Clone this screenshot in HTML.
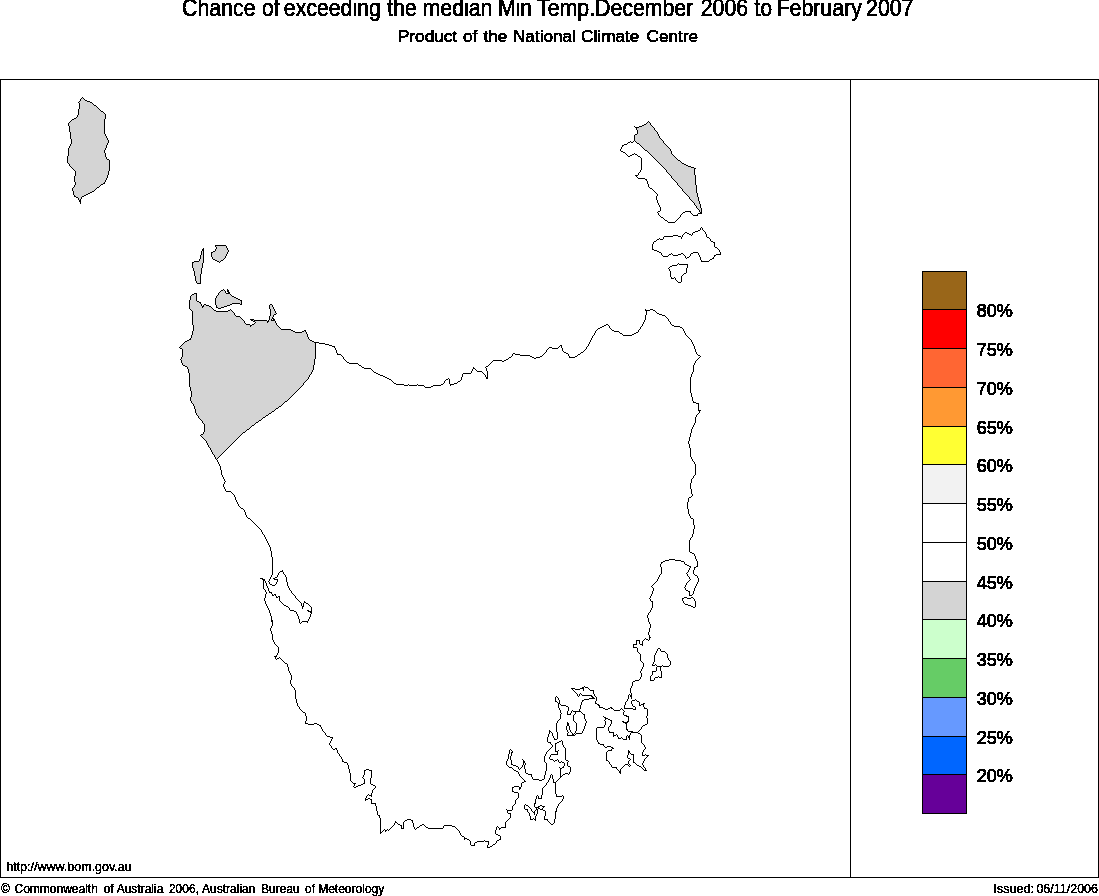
<!DOCTYPE html>
<html><head><meta charset="utf-8"><title>Chance of exceeding the median Min Temp</title>
<style>
html,body{margin:0;padding:0;background:#fff;}
body{width:1099px;height:896px;overflow:hidden;position:relative;font-family:"Liberation Sans",sans-serif;color:#000;}
svg{position:absolute;left:0;top:0;display:block;}
svg text{font-family:"Liberation Sans",sans-serif;fill:#000;stroke:#000;stroke-width:0.6px;}
.small text{stroke-width:0.4px;}
.map path{stroke:none;}
.map path.ol{fill:#000;}
.leg rect{stroke:#000;stroke-width:1;}
.legt text{font-size:18px;stroke-width:0.9px;}
</style></head><body>
<svg width="1099" height="896" viewBox="0 0 1099 896" shape-rendering="crispEdges">
<rect x="0.5" y="79.5" width="1098" height="798" fill="#fff" stroke="#000" stroke-width="1"/>
<line x1="850.5" y1="79.5" x2="850.5" y2="877.5" stroke="#000" stroke-width="1"/>
<g class="map">
<path d="M82.5 97.5 L85.5 100.5 L91.5 102.5 L98.5 108.5 L105.5 114.5 L104.5 123.5 L104.5 133.5 L108.5 141.5 L104.5 151.5 L106.5 158.5 L109.5 160.5 L109.5 169.5 L107.5 176.5 L104.5 183.5 L101.5 184.5 L94.5 190.5 L88.5 193.5 L82.5 196.5 L80.5 199.5 L80.5 203.5 L78.5 198.5 L74.5 196.5 L72.5 188.5 L75.5 184.5 L74.5 179.5 L75.5 171.5 L71.5 167.5 L67.5 162.5 L68.5 148.5 L71.5 143.5 L70.5 134.5 L68.5 123.5 L71.5 120.5 L76.5 117.5 L78.5 113.5 L79.5 103.5 L78.5 102.5 Z" fill="#d4d4d4"/>
<path d="M203.5 248.5 L203.5 260.5 L201.5 270.5 L200.5 277.5 L200.5 283.5 L197.5 283.5 L195.5 279.5 L194.5 272.5 L192.5 266.5 L192.5 262.5 L195.5 261.5 L198.5 261.5 L200.5 257.5 L201.5 251.5 Z" fill="#d4d4d4"/>
<path d="M215.5 245.5 L225.5 245.5 L227.5 248.5 L228.5 251.5 L226.5 254.5 L225.5 257.5 L219.5 262.5 L216.5 260.5 L213.5 259.5 L211.5 256.5 L211.5 252.5 L214.5 251.5 L216.5 247.5 Z" fill="#d4d4d4"/>
<path d="M223.5 289.5 L226.5 293.5 L228.5 293.5 L227.5 289.5 L229.5 293.5 L231.5 295.5 L237.5 298.5 L241.5 300.5 L241.5 302.5 L241.5 304.5 L237.5 303.5 L232.5 303.5 L228.5 305.5 L222.5 307.5 L218.5 308.5 L216.5 307.5 L215.5 302.5 L215.5 298.5 L219.5 292.5 Z" fill="#d4d4d4"/>
<path d="M216.5 459.5 L209.5 447.5 L205.5 440.5 L200.5 435.5 L202.5 434.5 L204.5 431.5 L204.5 424.5 L200.5 419.5 L196.5 414.5 L194.5 406.5 L190.5 400.5 L191.5 392.5 L189.5 384.5 L189.5 374.5 L187.5 367.5 L182.5 364.5 L181.5 360.5 L180.5 359.5 L182.5 356.5 L182.5 349.5 L179.5 347.5 L182.5 344.5 L185.5 341.5 L190.5 339.5 L191.5 336.5 L193.5 328.5 L192.5 320.5 L192.5 311.5 L189.5 308.5 L189.5 303.5 L190.5 296.5 L192.5 294.5 L196.5 293.5 L196.5 300.5 L200.5 302.5 L202.5 307.5 L204.5 304.5 L210.5 306.5 L213.5 309.5 L216.5 311.5 L223.5 311.5 L227.5 311.5 L230.5 309.5 L232.5 311.5 L236.5 316.5 L239.5 316.5 L242.5 319.5 L246.5 324.5 L249.5 324.5 L250.5 326.5 L255.5 322.5 L250.5 319.5 L258.5 320.5 L266.5 320.5 L267.5 322.5 L269.5 319.5 L270.5 311.5 L269.5 305.5 L271.5 304.5 L276.5 313.5 L273.5 315.5 L271.5 320.5 L273.5 320.5 L273.5 318.5 L277.5 325.5 L281.5 329.5 L290.5 329.5 L295.5 332.5 L300.5 332.5 L305.5 330.5 L308.5 338.5 L310.5 340.5 L315.5 342.5 L315.5 354.5 L314.5 364.5 L314.5 360.5 L313.5 369.5 L307.5 379.5 L300.5 387.5 L291.5 396.5 L281.5 405.5 L268.5 414.5 L255.5 423.5 L241.5 434.5 L230.5 445.5 L222.5 453.5 L216.5 459.5 Z" fill="#d4d4d4"/>
<path d="M648.5 121.5 L651.5 125.5 L656.5 131.5 L660.5 138.5 L666.5 145.5 L670.5 149.5 L671.5 153.5 L675.5 157.5 L681.5 162.5 L689.5 166.5 L695.5 168.5 L694.5 170.5 L695.5 179.5 L696.5 191.5 L699.5 202.5 L701.5 209.5 L701.5 213.5 L698.5 213.5 L697.5 215.5 L693.5 215.5 L691.5 213.5 L690.5 211.5 L685.5 211.5 L682.5 213.5 L679.5 217.5 L676.5 220.5 L674.5 222.5 L668.5 222.5 L664.5 219.5 L660.5 216.5 L657.5 212.5 L660.5 210.5 L660.5 207.5 L657.5 202.5 L656.5 197.5 L657.5 194.5 L653.5 190.5 L649.5 187.5 L648.5 185.5 L646.5 179.5 L642.5 178.5 L638.5 178.5 L635.5 175.5 L637.5 175.5 L639.5 172.5 L641.5 168.5 L641.5 163.5 L641.5 158.5 L637.5 155.5 L634.5 153.5 L628.5 156.5 L625.5 153.5 L620.5 150.5 L622.5 145.5 L626.5 144.5 L630.5 141.5 L632.5 142.5 L634.5 140.5 L634.5 135.5 L637.5 133.5 L637.5 130.5 L635.5 127.5 L634.5 126.5 L636.5 127.5 L641.5 126.5 L645.5 124.5 Z" fill="#ffffff"/>
<path d="M648.5 121.5 L651.5 125.5 L656.5 131.5 L660.5 138.5 L666.5 145.5 L670.5 149.5 L671.5 153.5 L675.5 157.5 L681.5 162.5 L689.5 166.5 L695.5 168.5 L694.5 170.5 L695.5 179.5 L696.5 191.5 L699.5 202.5 L701.5 209.5 L701.5 213.5 L700.5 212.5 L693.5 202.5 L685.5 193.5 L674.5 180.5 L663.5 167.5 L650.5 154.5 L634.5 140.5 L634.5 135.5 L637.5 133.5 L637.5 130.5 L635.5 127.5 L634.5 126.5 L636.5 127.5 L641.5 126.5 L645.5 124.5 Z" fill="#d4d4d4"/>
<path class="ol" d="M82 97h1v1h-1zM81 98h1v1h-1zM83 98h1v1h-1zM80 99h1v1h-1zM84 99h1v1h-1zM80 100h1v1h-1zM85 100h2v1h-2zM79 101h1v1h-1zM87 101h3v1h-3zM78 102h1v1h-1zM90 102h2v1h-2zM79 103h1v1h-1zM92 103h1v1h-1zM79 104h1v1h-1zM93 104h1v1h-1zM79 105h1v1h-1zM94 105h2v1h-2zM79 106h1v1h-1zM96 106h1v1h-1zM79 107h1v1h-1zM97 107h1v1h-1zM79 108h1v1h-1zM98 108h1v1h-1zM78 109h1v1h-1zM99 109h1v1h-1zM78 110h1v1h-1zM100 110h1v1h-1zM78 111h1v1h-1zM101 111h2v1h-2zM78 112h1v1h-1zM103 112h1v1h-1zM78 113h1v1h-1zM104 113h1v1h-1zM78 114h1v1h-1zM105 114h1v1h-1zM77 115h1v1h-1zM105 115h1v1h-1zM77 116h1v1h-1zM105 116h1v1h-1zM76 117h1v1h-1zM105 117h1v1h-1zM74 118h2v1h-2zM105 118h1v1h-1zM72 119h2v1h-2zM104 119h1v1h-1zM71 120h1v1h-1zM104 120h1v1h-1zM70 121h1v1h-1zM104 121h1v1h-1zM648 121h1v1h-1zM69 122h1v1h-1zM104 122h1v1h-1zM647 122h1v1h-1zM649 122h1v1h-1zM68 123h1v1h-1zM104 123h1v1h-1zM646 123h1v1h-1zM650 123h1v1h-1zM68 124h1v1h-1zM104 124h1v1h-1zM644 124h2v1h-2zM650 124h1v1h-1zM68 125h1v1h-1zM104 125h1v1h-1zM642 125h2v1h-2zM651 125h1v1h-1zM69 126h1v1h-1zM104 126h1v1h-1zM634 126h1v1h-1zM639 126h3v1h-3zM652 126h1v1h-1zM69 127h1v1h-1zM104 127h1v1h-1zM635 127h4v1h-4zM653 127h1v1h-1zM69 128h1v1h-1zM104 128h1v1h-1zM636 128h1v1h-1zM654 128h1v1h-1zM69 129h1v1h-1zM104 129h1v1h-1zM636 129h1v1h-1zM654 129h1v1h-1zM69 130h1v1h-1zM104 130h1v1h-1zM637 130h1v1h-1zM655 130h1v1h-1zM69 131h1v1h-1zM104 131h1v1h-1zM637 131h1v1h-1zM656 131h1v1h-1zM70 132h1v1h-1zM104 132h1v1h-1zM637 132h1v1h-1zM657 132h1v1h-1zM70 133h1v1h-1zM104 133h1v1h-1zM637 133h1v1h-1zM657 133h1v1h-1zM70 134h1v1h-1zM105 134h1v1h-1zM635 134h2v1h-2zM658 134h1v1h-1zM70 135h1v1h-1zM105 135h1v1h-1zM634 135h1v1h-1zM658 135h1v1h-1zM70 136h1v1h-1zM106 136h1v1h-1zM634 136h1v1h-1zM659 136h1v1h-1zM70 137h1v1h-1zM106 137h1v1h-1zM634 137h1v1h-1zM659 137h1v1h-1zM70 138h1v1h-1zM107 138h1v1h-1zM634 138h1v1h-1zM660 138h1v1h-1zM71 139h1v1h-1zM107 139h1v1h-1zM634 139h1v1h-1zM661 139h1v1h-1zM71 140h1v1h-1zM108 140h1v1h-1zM634 140h1v1h-1zM662 140h1v1h-1zM71 141h1v1h-1zM108 141h1v1h-1zM630 141h1v1h-1zM633 141h1v1h-1zM635 141h1v1h-1zM663 141h1v1h-1zM71 142h1v1h-1zM108 142h1v1h-1zM628 142h2v1h-2zM631 142h2v1h-2zM636 142h1v1h-1zM663 142h1v1h-1zM71 143h1v1h-1zM107 143h1v1h-1zM627 143h1v1h-1zM637 143h2v1h-2zM664 143h1v1h-1zM70 144h1v1h-1zM107 144h1v1h-1zM624 144h3v1h-3zM639 144h1v1h-1zM665 144h1v1h-1zM70 145h1v1h-1zM106 145h1v1h-1zM622 145h2v1h-2zM640 145h1v1h-1zM666 145h1v1h-1zM69 146h1v1h-1zM106 146h1v1h-1zM622 146h1v1h-1zM641 146h1v1h-1zM667 146h1v1h-1zM69 147h1v1h-1zM106 147h1v1h-1zM621 147h1v1h-1zM642 147h1v1h-1zM668 147h1v1h-1zM68 148h1v1h-1zM105 148h1v1h-1zM621 148h1v1h-1zM643 148h1v1h-1zM669 148h1v1h-1zM68 149h1v1h-1zM105 149h1v1h-1zM620 149h1v1h-1zM644 149h1v1h-1zM670 149h1v1h-1zM68 150h1v1h-1zM104 150h1v1h-1zM620 150h1v1h-1zM645 150h2v1h-2zM670 150h1v1h-1zM68 151h1v1h-1zM104 151h1v1h-1zM621 151h2v1h-2zM647 151h1v1h-1zM671 151h1v1h-1zM68 152h1v1h-1zM104 152h1v1h-1zM623 152h2v1h-2zM648 152h1v1h-1zM671 152h1v1h-1zM68 153h1v1h-1zM105 153h1v1h-1zM625 153h1v1h-1zM634 153h1v1h-1zM649 153h1v1h-1zM671 153h1v1h-1zM68 154h1v1h-1zM105 154h1v1h-1zM626 154h1v1h-1zM632 154h2v1h-2zM635 154h2v1h-2zM650 154h1v1h-1zM672 154h1v1h-1zM68 155h1v1h-1zM105 155h1v1h-1zM627 155h1v1h-1zM630 155h2v1h-2zM637 155h1v1h-1zM651 155h1v1h-1zM673 155h1v1h-1zM67 156h1v1h-1zM105 156h1v1h-1zM628 156h2v1h-2zM638 156h2v1h-2zM652 156h1v1h-1zM674 156h1v1h-1zM67 157h1v1h-1zM106 157h1v1h-1zM640 157h1v1h-1zM653 157h1v1h-1zM675 157h1v1h-1zM67 158h1v1h-1zM106 158h1v1h-1zM641 158h1v1h-1zM654 158h1v1h-1zM676 158h1v1h-1zM67 159h1v1h-1zM107 159h2v1h-2zM641 159h1v1h-1zM655 159h1v1h-1zM677 159h1v1h-1zM67 160h1v1h-1zM109 160h1v1h-1zM641 160h1v1h-1zM656 160h1v1h-1zM678 160h2v1h-2zM67 161h1v1h-1zM109 161h1v1h-1zM641 161h1v1h-1zM657 161h1v1h-1zM680 161h1v1h-1zM67 162h1v1h-1zM109 162h1v1h-1zM641 162h1v1h-1zM658 162h1v1h-1zM681 162h1v1h-1zM68 163h1v1h-1zM109 163h1v1h-1zM641 163h1v1h-1zM659 163h1v1h-1zM682 163h2v1h-2zM69 164h1v1h-1zM109 164h1v1h-1zM641 164h1v1h-1zM660 164h1v1h-1zM684 164h2v1h-2zM69 165h1v1h-1zM109 165h1v1h-1zM641 165h1v1h-1zM661 165h1v1h-1zM686 165h2v1h-2zM70 166h1v1h-1zM109 166h1v1h-1zM641 166h1v1h-1zM662 166h1v1h-1zM688 166h3v1h-3zM71 167h1v1h-1zM109 167h1v1h-1zM641 167h1v1h-1zM663 167h1v1h-1zM691 167h3v1h-3zM72 168h1v1h-1zM109 168h1v1h-1zM641 168h1v1h-1zM664 168h1v1h-1zM694 168h2v1h-2zM73 169h1v1h-1zM109 169h1v1h-1zM641 169h1v1h-1zM665 169h1v1h-1zM694 169h1v1h-1zM74 170h1v1h-1zM109 170h1v1h-1zM640 170h1v1h-1zM666 170h1v1h-1zM694 170h1v1h-1zM75 171h1v1h-1zM108 171h1v1h-1zM640 171h1v1h-1zM666 171h1v1h-1zM694 171h1v1h-1zM75 172h1v1h-1zM108 172h1v1h-1zM639 172h1v1h-1zM667 172h1v1h-1zM694 172h1v1h-1zM75 173h1v1h-1zM108 173h1v1h-1zM638 173h1v1h-1zM668 173h1v1h-1zM694 173h1v1h-1zM75 174h1v1h-1zM108 174h1v1h-1zM638 174h1v1h-1zM669 174h1v1h-1zM694 174h1v1h-1zM75 175h1v1h-1zM107 175h1v1h-1zM635 175h3v1h-3zM670 175h1v1h-1zM695 175h1v1h-1zM74 176h1v1h-1zM107 176h1v1h-1zM636 176h1v1h-1zM671 176h1v1h-1zM695 176h1v1h-1zM74 177h1v1h-1zM107 177h1v1h-1zM637 177h1v1h-1zM671 177h1v1h-1zM695 177h1v1h-1zM74 178h1v1h-1zM106 178h1v1h-1zM638 178h7v1h-7zM672 178h1v1h-1zM695 178h1v1h-1zM74 179h1v1h-1zM106 179h1v1h-1zM645 179h2v1h-2zM673 179h1v1h-1zM695 179h1v1h-1zM74 180h1v1h-1zM105 180h1v1h-1zM646 180h1v1h-1zM674 180h1v1h-1zM695 180h1v1h-1zM74 181h1v1h-1zM105 181h1v1h-1zM647 181h1v1h-1zM675 181h1v1h-1zM695 181h1v1h-1zM75 182h1v1h-1zM104 182h1v1h-1zM647 182h1v1h-1zM676 182h1v1h-1zM695 182h1v1h-1zM75 183h1v1h-1zM103 183h2v1h-2zM647 183h1v1h-1zM677 183h1v1h-1zM695 183h1v1h-1zM75 184h1v1h-1zM101 184h2v1h-2zM648 184h1v1h-1zM677 184h1v1h-1zM695 184h1v1h-1zM74 185h1v1h-1zM100 185h1v1h-1zM648 185h1v1h-1zM678 185h1v1h-1zM696 185h1v1h-1zM74 186h1v1h-1zM99 186h1v1h-1zM648 186h1v1h-1zM679 186h1v1h-1zM696 186h1v1h-1zM73 187h1v1h-1zM97 187h2v1h-2zM649 187h1v1h-1zM680 187h1v1h-1zM696 187h1v1h-1zM72 188h1v1h-1zM96 188h1v1h-1zM650 188h2v1h-2zM681 188h1v1h-1zM696 188h1v1h-1zM72 189h1v1h-1zM95 189h1v1h-1zM652 189h1v1h-1zM682 189h1v1h-1zM696 189h1v1h-1zM72 190h1v1h-1zM94 190h1v1h-1zM653 190h1v1h-1zM682 190h1v1h-1zM696 190h1v1h-1zM73 191h1v1h-1zM92 191h2v1h-2zM654 191h1v1h-1zM683 191h1v1h-1zM696 191h1v1h-1zM73 192h1v1h-1zM90 192h2v1h-2zM655 192h1v1h-1zM684 192h1v1h-1zM696 192h1v1h-1zM73 193h1v1h-1zM88 193h2v1h-2zM656 193h1v1h-1zM685 193h1v1h-1zM697 193h1v1h-1zM73 194h1v1h-1zM86 194h2v1h-2zM657 194h1v1h-1zM686 194h1v1h-1zM697 194h1v1h-1zM74 195h1v1h-1zM84 195h2v1h-2zM657 195h1v1h-1zM687 195h1v1h-1zM697 195h1v1h-1zM74 196h2v1h-2zM82 196h2v1h-2zM656 196h1v1h-1zM688 196h1v1h-1zM697 196h1v1h-1zM76 197h2v1h-2zM81 197h1v1h-1zM656 197h1v1h-1zM689 197h1v1h-1zM698 197h1v1h-1zM78 198h1v1h-1zM81 198h1v1h-1zM656 198h1v1h-1zM689 198h1v1h-1zM698 198h1v1h-1zM78 199h1v1h-1zM80 199h1v1h-1zM656 199h1v1h-1zM690 199h1v1h-1zM698 199h1v1h-1zM79 200h2v1h-2zM657 200h1v1h-1zM691 200h1v1h-1zM698 200h1v1h-1zM79 201h2v1h-2zM657 201h1v1h-1zM692 201h1v1h-1zM699 201h1v1h-1zM80 202h1v1h-1zM657 202h1v1h-1zM693 202h1v1h-1zM699 202h1v1h-1zM80 203h1v1h-1zM658 203h1v1h-1zM694 203h1v1h-1zM699 203h1v1h-1zM658 204h1v1h-1zM694 204h1v1h-1zM700 204h1v1h-1zM659 205h1v1h-1zM695 205h1v1h-1zM700 205h1v1h-1zM659 206h1v1h-1zM696 206h1v1h-1zM700 206h1v1h-1zM660 207h1v1h-1zM696 207h1v1h-1zM700 207h1v1h-1zM660 208h1v1h-1zM697 208h1v1h-1zM701 208h1v1h-1zM660 209h1v1h-1zM698 209h1v1h-1zM701 209h1v1h-1zM660 210h1v1h-1zM699 210h1v1h-1zM701 210h1v1h-1zM658 211h2v1h-2zM685 211h6v1h-6zM699 211h1v1h-1zM701 211h1v1h-1zM657 212h1v1h-1zM683 212h2v1h-2zM690 212h1v1h-1zM700 212h2v1h-2zM658 213h1v1h-1zM682 213h1v1h-1zM691 213h1v1h-1zM698 213h4v1h-4zM658 214h1v1h-1zM681 214h1v1h-1zM692 214h1v1h-1zM697 214h1v1h-1zM659 215h1v1h-1zM680 215h1v1h-1zM693 215h5v1h-5zM660 216h1v1h-1zM680 216h1v1h-1zM661 217h2v1h-2zM679 217h1v1h-1zM663 218h1v1h-1zM678 218h1v1h-1zM664 219h1v1h-1zM677 219h1v1h-1zM665 220h2v1h-2zM676 220h1v1h-1zM667 221h1v1h-1zM675 221h1v1h-1zM668 222h7v1h-7zM701 227h1v1h-1zM700 228h1v1h-1zM702 228h1v1h-1zM700 229h1v1h-1zM702 229h1v1h-1zM698 230h2v1h-2zM703 230h1v1h-1zM695 231h3v1h-3zM704 231h1v1h-1zM685 232h2v1h-2zM693 232h2v1h-2zM705 232h1v1h-1zM684 233h1v1h-1zM687 233h2v1h-2zM692 233h1v1h-1zM705 233h1v1h-1zM683 234h1v1h-1zM689 234h2v1h-2zM692 234h1v1h-1zM706 234h1v1h-1zM673 235h5v1h-5zM682 235h1v1h-1zM691 235h1v1h-1zM706 235h1v1h-1zM664 236h9v1h-9zM678 236h3v1h-3zM682 236h1v1h-1zM706 236h1v1h-1zM663 237h1v1h-1zM681 237h1v1h-1zM707 237h2v1h-2zM659 238h1v1h-1zM663 238h1v1h-1zM681 238h1v1h-1zM709 238h1v1h-1zM657 239h2v1h-2zM660 239h3v1h-3zM710 239h1v1h-1zM656 240h1v1h-1zM710 240h1v1h-1zM654 241h2v1h-2zM711 241h2v1h-2zM653 242h1v1h-1zM713 242h2v1h-2zM653 243h1v1h-1zM714 243h1v1h-1zM652 244h1v1h-1zM714 244h1v1h-1zM215 245h11v1h-11zM652 245h1v1h-1zM714 245h1v1h-1zM215 246h1v1h-1zM226 246h1v1h-1zM652 246h1v1h-1zM714 246h1v1h-1zM216 247h1v1h-1zM226 247h1v1h-1zM652 247h1v1h-1zM715 247h2v1h-2zM203 248h1v1h-1zM216 248h1v1h-1zM227 248h1v1h-1zM652 248h1v1h-1zM717 248h1v1h-1zM202 249h2v1h-2zM215 249h1v1h-1zM227 249h1v1h-1zM652 249h2v1h-2zM718 249h1v1h-1zM202 250h2v1h-2zM215 250h1v1h-1zM228 250h1v1h-1zM654 250h3v1h-3zM719 250h1v1h-1zM201 251h1v1h-1zM203 251h1v1h-1zM213 251h2v1h-2zM228 251h1v1h-1zM657 251h2v1h-2zM719 251h1v1h-1zM201 252h1v1h-1zM203 252h1v1h-1zM211 252h2v1h-2zM227 252h1v1h-1zM659 252h2v1h-2zM693 252h5v1h-5zM720 252h1v1h-1zM201 253h1v1h-1zM203 253h1v1h-1zM211 253h1v1h-1zM227 253h1v1h-1zM661 253h1v1h-1zM671 253h1v1h-1zM681 253h2v1h-2zM691 253h2v1h-2zM698 253h1v1h-1zM720 253h1v1h-1zM201 254h1v1h-1zM203 254h1v1h-1zM211 254h1v1h-1zM226 254h1v1h-1zM661 254h1v1h-1zM669 254h2v1h-2zM672 254h1v1h-1zM678 254h3v1h-3zM683 254h1v1h-1zM690 254h1v1h-1zM698 254h1v1h-1zM716 254h5v1h-5zM200 255h1v1h-1zM203 255h1v1h-1zM211 255h1v1h-1zM226 255h1v1h-1zM662 255h1v1h-1zM668 255h1v1h-1zM673 255h5v1h-5zM684 255h1v1h-1zM690 255h1v1h-1zM699 255h1v1h-1zM714 255h2v1h-2zM200 256h1v1h-1zM203 256h1v1h-1zM211 256h1v1h-1zM225 256h1v1h-1zM663 256h5v1h-5zM685 256h1v1h-1zM689 256h1v1h-1zM699 256h1v1h-1zM714 256h1v1h-1zM200 257h1v1h-1zM203 257h1v1h-1zM212 257h1v1h-1zM225 257h1v1h-1zM685 257h1v1h-1zM687 257h2v1h-2zM700 257h1v1h-1zM713 257h1v1h-1zM200 258h1v1h-1zM203 258h1v1h-1zM212 258h1v1h-1zM224 258h1v1h-1zM686 258h1v1h-1zM700 258h1v1h-1zM712 258h2v1h-2zM199 259h1v1h-1zM203 259h1v1h-1zM213 259h2v1h-2zM223 259h1v1h-1zM700 259h1v1h-1zM710 259h2v1h-2zM199 260h1v1h-1zM203 260h1v1h-1zM215 260h2v1h-2zM221 260h2v1h-2zM701 260h1v1h-1zM709 260h1v1h-1zM194 261h5v1h-5zM203 261h1v1h-1zM217 261h2v1h-2zM220 261h1v1h-1zM701 261h8v1h-8zM192 262h2v1h-2zM203 262h1v1h-1zM219 262h1v1h-1zM192 263h1v1h-1zM202 263h1v1h-1zM678 263h1v1h-1zM192 264h1v1h-1zM202 264h1v1h-1zM677 264h1v1h-1zM679 264h9v1h-9zM192 265h1v1h-1zM202 265h1v1h-1zM672 265h5v1h-5zM687 265h1v1h-1zM192 266h1v1h-1zM202 266h1v1h-1zM670 266h2v1h-2zM687 266h1v1h-1zM192 267h1v1h-1zM202 267h1v1h-1zM669 267h1v1h-1zM687 267h1v1h-1zM193 268h1v1h-1zM201 268h1v1h-1zM668 268h1v1h-1zM686 268h1v1h-1zM193 269h1v1h-1zM201 269h1v1h-1zM669 269h1v1h-1zM686 269h1v1h-1zM193 270h1v1h-1zM201 270h1v1h-1zM669 270h1v1h-1zM686 270h1v1h-1zM194 271h1v1h-1zM201 271h1v1h-1zM670 271h1v1h-1zM686 271h1v1h-1zM194 272h1v1h-1zM201 272h1v1h-1zM670 272h1v1h-1zM686 272h1v1h-1zM194 273h1v1h-1zM201 273h1v1h-1zM670 273h1v1h-1zM684 273h2v1h-2zM194 274h1v1h-1zM200 274h1v1h-1zM670 274h1v1h-1zM683 274h1v1h-1zM194 275h1v1h-1zM200 275h1v1h-1zM670 275h1v1h-1zM682 275h1v1h-1zM195 276h1v1h-1zM200 276h1v1h-1zM670 276h1v1h-1zM681 276h1v1h-1zM195 277h1v1h-1zM200 277h1v1h-1zM671 277h1v1h-1zM674 277h1v1h-1zM681 277h1v1h-1zM195 278h1v1h-1zM200 278h1v1h-1zM671 278h3v1h-3zM675 278h1v1h-1zM681 278h1v1h-1zM195 279h1v1h-1zM200 279h1v1h-1zM675 279h1v1h-1zM681 279h1v1h-1zM195 280h1v1h-1zM200 280h1v1h-1zM676 280h1v1h-1zM681 280h1v1h-1zM196 281h1v1h-1zM200 281h1v1h-1zM677 281h1v1h-1zM681 281h1v1h-1zM196 282h1v1h-1zM200 282h1v1h-1zM678 282h3v1h-3zM197 283h4v1h-4zM223 289h1v1h-1zM227 289h1v1h-1zM221 290h2v1h-2zM224 290h1v1h-1zM227 290h2v1h-2zM220 291h1v1h-1zM225 291h1v1h-1zM227 291h2v1h-2zM219 292h1v1h-1zM225 292h1v1h-1zM228 292h2v1h-2zM194 293h3v1h-3zM218 293h1v1h-1zM226 293h4v1h-4zM192 294h2v1h-2zM196 294h1v1h-1zM218 294h1v1h-1zM230 294h1v1h-1zM191 295h1v1h-1zM196 295h1v1h-1zM217 295h1v1h-1zM231 295h1v1h-1zM190 296h1v1h-1zM196 296h1v1h-1zM216 296h1v1h-1zM232 296h2v1h-2zM190 297h1v1h-1zM196 297h1v1h-1zM216 297h1v1h-1zM234 297h2v1h-2zM190 298h1v1h-1zM196 298h1v1h-1zM215 298h1v1h-1zM236 298h2v1h-2zM190 299h1v1h-1zM196 299h1v1h-1zM215 299h1v1h-1zM238 299h2v1h-2zM189 300h1v1h-1zM196 300h1v1h-1zM215 300h1v1h-1zM240 300h2v1h-2zM189 301h1v1h-1zM197 301h2v1h-2zM215 301h1v1h-1zM241 301h1v1h-1zM189 302h1v1h-1zM199 302h2v1h-2zM215 302h1v1h-1zM241 302h1v1h-1zM189 303h1v1h-1zM200 303h1v1h-1zM215 303h1v1h-1zM232 303h8v1h-8zM241 303h1v1h-1zM189 304h1v1h-1zM201 304h1v1h-1zM204 304h2v1h-2zM215 304h1v1h-1zM230 304h2v1h-2zM240 304h2v1h-2zM270 304h2v1h-2zM189 305h1v1h-1zM201 305h1v1h-1zM203 305h1v1h-1zM206 305h3v1h-3zM216 305h1v1h-1zM227 305h3v1h-3zM269 305h1v1h-1zM272 305h1v1h-1zM189 306h1v1h-1zM202 306h2v1h-2zM209 306h2v1h-2zM216 306h1v1h-1zM224 306h3v1h-3zM269 306h1v1h-1zM272 306h1v1h-1zM189 307h1v1h-1zM202 307h1v1h-1zM211 307h1v1h-1zM216 307h2v1h-2zM221 307h3v1h-3zM269 307h1v1h-1zM273 307h1v1h-1zM189 308h1v1h-1zM212 308h1v1h-1zM218 308h3v1h-3zM269 308h1v1h-1zM273 308h1v1h-1zM190 309h1v1h-1zM213 309h1v1h-1zM230 309h1v1h-1zM270 309h1v1h-1zM274 309h1v1h-1zM645 309h1v1h-1zM650 309h3v1h-3zM191 310h1v1h-1zM214 310h2v1h-2zM228 310h2v1h-2zM231 310h1v1h-1zM270 310h1v1h-1zM274 310h1v1h-1zM645 310h5v1h-5zM653 310h2v1h-2zM192 311h1v1h-1zM216 311h12v1h-12zM232 311h1v1h-1zM270 311h1v1h-1zM275 311h1v1h-1zM646 311h1v1h-1zM655 311h1v1h-1zM192 312h1v1h-1zM233 312h1v1h-1zM270 312h1v1h-1zM275 312h1v1h-1zM646 312h1v1h-1zM656 312h1v1h-1zM192 313h1v1h-1zM234 313h1v1h-1zM270 313h1v1h-1zM276 313h1v1h-1zM646 313h1v1h-1zM657 313h2v1h-2zM192 314h1v1h-1zM234 314h1v1h-1zM270 314h1v1h-1zM274 314h2v1h-2zM646 314h1v1h-1zM659 314h3v1h-3zM192 315h1v1h-1zM235 315h1v1h-1zM270 315h1v1h-1zM273 315h1v1h-1zM645 315h1v1h-1zM662 315h3v1h-3zM192 316h1v1h-1zM236 316h4v1h-4zM269 316h1v1h-1zM273 316h1v1h-1zM645 316h1v1h-1zM665 316h1v1h-1zM192 317h1v1h-1zM240 317h1v1h-1zM269 317h1v1h-1zM272 317h1v1h-1zM645 317h1v1h-1zM666 317h1v1h-1zM192 318h1v1h-1zM241 318h1v1h-1zM269 318h1v1h-1zM272 318h2v1h-2zM645 318h1v1h-1zM667 318h1v1h-1zM192 319h1v1h-1zM242 319h1v1h-1zM250 319h4v1h-4zM269 319h1v1h-1zM271 319h1v1h-1zM273 319h2v1h-2zM645 319h1v1h-1zM668 319h1v1h-1zM192 320h1v1h-1zM243 320h1v1h-1zM251 320h2v1h-2zM254 320h13v1h-13zM268 320h1v1h-1zM271 320h4v1h-4zM644 320h1v1h-1zM668 320h1v1h-1zM192 321h1v1h-1zM244 321h1v1h-1zM253 321h2v1h-2zM267 321h2v1h-2zM275 321h1v1h-1zM644 321h1v1h-1zM669 321h1v1h-1zM192 322h1v1h-1zM244 322h1v1h-1zM255 322h1v1h-1zM267 322h1v1h-1zM275 322h1v1h-1zM643 322h1v1h-1zM670 322h1v1h-1zM192 323h1v1h-1zM245 323h1v1h-1zM254 323h1v1h-1zM276 323h1v1h-1zM643 323h1v1h-1zM670 323h1v1h-1zM192 324h1v1h-1zM246 324h4v1h-4zM252 324h2v1h-2zM276 324h1v1h-1zM606 324h2v1h-2zM642 324h1v1h-1zM671 324h1v1h-1zM193 325h1v1h-1zM250 325h2v1h-2zM277 325h1v1h-1zM604 325h2v1h-2zM608 325h1v1h-1zM642 325h1v1h-1zM672 325h2v1h-2zM193 326h1v1h-1zM250 326h1v1h-1zM278 326h1v1h-1zM602 326h2v1h-2zM609 326h1v1h-1zM641 326h1v1h-1zM674 326h6v1h-6zM193 327h1v1h-1zM279 327h1v1h-1zM600 327h2v1h-2zM609 327h1v1h-1zM640 327h1v1h-1zM680 327h2v1h-2zM193 328h1v1h-1zM280 328h1v1h-1zM598 328h2v1h-2zM610 328h1v1h-1zM640 328h1v1h-1zM682 328h1v1h-1zM193 329h1v1h-1zM281 329h10v1h-10zM597 329h1v1h-1zM611 329h1v1h-1zM639 329h1v1h-1zM683 329h1v1h-1zM193 330h1v1h-1zM291 330h2v1h-2zM304 330h2v1h-2zM596 330h1v1h-1zM612 330h2v1h-2zM638 330h1v1h-1zM683 330h1v1h-1zM192 331h1v1h-1zM293 331h2v1h-2zM302 331h2v1h-2zM305 331h1v1h-1zM595 331h1v1h-1zM614 331h5v1h-5zM638 331h1v1h-1zM684 331h1v1h-1zM192 332h1v1h-1zM295 332h7v1h-7zM306 332h1v1h-1zM595 332h1v1h-1zM619 332h1v1h-1zM636 332h2v1h-2zM684 332h1v1h-1zM192 333h1v1h-1zM306 333h1v1h-1zM594 333h1v1h-1zM620 333h2v1h-2zM634 333h2v1h-2zM685 333h1v1h-1zM192 334h1v1h-1zM307 334h1v1h-1zM594 334h1v1h-1zM622 334h1v1h-1zM632 334h2v1h-2zM685 334h1v1h-1zM191 335h1v1h-1zM307 335h1v1h-1zM593 335h1v1h-1zM623 335h9v1h-9zM686 335h1v1h-1zM191 336h1v1h-1zM307 336h1v1h-1zM592 336h1v1h-1zM687 336h1v1h-1zM191 337h1v1h-1zM308 337h1v1h-1zM592 337h1v1h-1zM688 337h1v1h-1zM190 338h1v1h-1zM308 338h1v1h-1zM591 338h1v1h-1zM689 338h1v1h-1zM189 339h2v1h-2zM309 339h1v1h-1zM591 339h1v1h-1zM690 339h1v1h-1zM187 340h2v1h-2zM310 340h2v1h-2zM590 340h1v1h-1zM691 340h1v1h-1zM185 341h2v1h-2zM312 341h2v1h-2zM590 341h1v1h-1zM691 341h1v1h-1zM184 342h1v1h-1zM314 342h5v1h-5zM589 342h1v1h-1zM692 342h1v1h-1zM183 343h1v1h-1zM315 343h1v1h-1zM319 343h6v1h-6zM589 343h1v1h-1zM692 343h1v1h-1zM182 344h1v1h-1zM315 344h1v1h-1zM325 344h4v1h-4zM588 344h1v1h-1zM693 344h1v1h-1zM181 345h1v1h-1zM315 345h1v1h-1zM329 345h3v1h-3zM560 345h2v1h-2zM588 345h1v1h-1zM693 345h1v1h-1zM180 346h1v1h-1zM315 346h1v1h-1zM332 346h3v1h-3zM559 346h1v1h-1zM561 346h1v1h-1zM587 346h1v1h-1zM694 346h1v1h-1zM179 347h1v1h-1zM315 347h1v1h-1zM334 347h1v1h-1zM549 347h3v1h-3zM558 347h1v1h-1zM561 347h1v1h-1zM586 347h1v1h-1zM694 347h1v1h-1zM180 348h2v1h-2zM315 348h1v1h-1zM335 348h1v1h-1zM548 348h1v1h-1zM552 348h6v1h-6zM562 348h1v1h-1zM586 348h1v1h-1zM694 348h1v1h-1zM182 349h1v1h-1zM315 349h1v1h-1zM335 349h1v1h-1zM547 349h1v1h-1zM562 349h1v1h-1zM585 349h1v1h-1zM695 349h1v1h-1zM182 350h1v1h-1zM315 350h1v1h-1zM336 350h1v1h-1zM546 350h1v1h-1zM562 350h1v1h-1zM584 350h1v1h-1zM695 350h1v1h-1zM182 351h1v1h-1zM315 351h1v1h-1zM336 351h1v1h-1zM546 351h1v1h-1zM563 351h1v1h-1zM583 351h1v1h-1zM695 351h1v1h-1zM182 352h1v1h-1zM315 352h1v1h-1zM336 352h1v1h-1zM545 352h1v1h-1zM564 352h2v1h-2zM581 352h2v1h-2zM696 352h1v1h-1zM182 353h1v1h-1zM315 353h1v1h-1zM337 353h1v1h-1zM513 353h2v1h-2zM544 353h1v1h-1zM566 353h2v1h-2zM580 353h1v1h-1zM696 353h1v1h-1zM182 354h1v1h-1zM315 354h1v1h-1zM337 354h4v1h-4zM512 354h1v1h-1zM515 354h5v1h-5zM543 354h1v1h-1zM568 354h1v1h-1zM578 354h2v1h-2zM697 354h1v1h-1zM182 355h1v1h-1zM315 355h1v1h-1zM341 355h1v1h-1zM512 355h1v1h-1zM520 355h10v1h-10zM542 355h1v1h-1zM568 355h1v1h-1zM577 355h1v1h-1zM698 355h2v1h-2zM182 356h1v1h-1zM315 356h1v1h-1zM342 356h1v1h-1zM511 356h1v1h-1zM530 356h2v1h-2zM540 356h2v1h-2zM569 356h1v1h-1zM575 356h2v1h-2zM700 356h1v1h-1zM181 357h1v1h-1zM315 357h1v1h-1zM343 357h1v1h-1zM509 357h2v1h-2zM532 357h2v1h-2zM536 357h4v1h-4zM569 357h6v1h-6zM699 357h1v1h-1zM181 358h1v1h-1zM315 358h1v1h-1zM343 358h1v1h-1zM508 358h1v1h-1zM534 358h2v1h-2zM698 358h1v1h-1zM180 359h1v1h-1zM314 359h1v1h-1zM344 359h1v1h-1zM506 359h2v1h-2zM697 359h1v1h-1zM181 360h1v1h-1zM314 360h1v1h-1zM345 360h1v1h-1zM493 360h9v1h-9zM504 360h2v1h-2zM696 360h1v1h-1zM181 361h1v1h-1zM314 361h1v1h-1zM346 361h1v1h-1zM492 361h1v1h-1zM502 361h2v1h-2zM695 361h1v1h-1zM181 362h1v1h-1zM314 362h1v1h-1zM347 362h2v1h-2zM491 362h1v1h-1zM695 362h1v1h-1zM182 363h1v1h-1zM314 363h1v1h-1zM349 363h9v1h-9zM490 363h1v1h-1zM694 363h1v1h-1zM182 364h1v1h-1zM314 364h1v1h-1zM358 364h1v1h-1zM489 364h1v1h-1zM694 364h1v1h-1zM183 365h2v1h-2zM313 365h1v1h-1zM359 365h2v1h-2zM488 365h1v1h-1zM693 365h1v1h-1zM185 366h2v1h-2zM313 366h1v1h-1zM361 366h1v1h-1zM486 366h2v1h-2zM693 366h1v1h-1zM187 367h1v1h-1zM313 367h1v1h-1zM362 367h2v1h-2zM473 367h1v1h-1zM485 367h1v1h-1zM693 367h1v1h-1zM187 368h1v1h-1zM313 368h1v1h-1zM364 368h7v1h-7zM473 368h2v1h-2zM486 368h1v1h-1zM693 368h1v1h-1zM188 369h1v1h-1zM313 369h1v1h-1zM371 369h1v1h-1zM472 369h1v1h-1zM475 369h1v1h-1zM486 369h1v1h-1zM693 369h1v1h-1zM188 370h1v1h-1zM312 370h1v1h-1zM372 370h1v1h-1zM472 370h1v1h-1zM476 370h1v1h-1zM486 370h1v1h-1zM693 370h1v1h-1zM188 371h1v1h-1zM312 371h1v1h-1zM373 371h1v1h-1zM471 371h1v1h-1zM477 371h5v1h-5zM487 371h1v1h-1zM693 371h1v1h-1zM188 372h1v1h-1zM311 372h1v1h-1zM374 372h2v1h-2zM471 372h1v1h-1zM482 372h1v1h-1zM487 372h1v1h-1zM692 372h1v1h-1zM189 373h1v1h-1zM311 373h1v1h-1zM376 373h2v1h-2zM463 373h8v1h-8zM483 373h1v1h-1zM487 373h1v1h-1zM692 373h1v1h-1zM189 374h1v1h-1zM310 374h1v1h-1zM378 374h2v1h-2zM462 374h1v1h-1zM484 374h1v1h-1zM487 374h1v1h-1zM691 374h1v1h-1zM189 375h1v1h-1zM309 375h1v1h-1zM380 375h3v1h-3zM462 375h1v1h-1zM485 375h1v1h-1zM487 375h1v1h-1zM691 375h1v1h-1zM189 376h1v1h-1zM309 376h1v1h-1zM383 376h2v1h-2zM462 376h1v1h-1zM485 376h1v1h-1zM487 376h1v1h-1zM691 376h1v1h-1zM189 377h1v1h-1zM308 377h1v1h-1zM385 377h2v1h-2zM461 377h1v1h-1zM486 377h2v1h-2zM690 377h1v1h-1zM189 378h1v1h-1zM308 378h1v1h-1zM387 378h2v1h-2zM448 378h1v1h-1zM461 378h1v1h-1zM486 378h2v1h-2zM690 378h1v1h-1zM189 379h1v1h-1zM307 379h1v1h-1zM389 379h2v1h-2zM446 379h2v1h-2zM449 379h1v1h-1zM461 379h1v1h-1zM690 379h1v1h-1zM189 380h1v1h-1zM306 380h1v1h-1zM391 380h1v1h-1zM445 380h1v1h-1zM449 380h1v1h-1zM460 380h1v1h-1zM690 380h1v1h-1zM189 381h1v1h-1zM305 381h1v1h-1zM392 381h1v1h-1zM444 381h1v1h-1zM449 381h1v1h-1zM458 381h2v1h-2zM690 381h1v1h-1zM189 382h1v1h-1zM304 382h1v1h-1zM393 382h1v1h-1zM444 382h1v1h-1zM449 382h1v1h-1zM457 382h1v1h-1zM690 382h1v1h-1zM189 383h1v1h-1zM303 383h1v1h-1zM394 383h2v1h-2zM443 383h1v1h-1zM449 383h1v1h-1zM454 383h3v1h-3zM690 383h1v1h-1zM189 384h1v1h-1zM303 384h1v1h-1zM396 384h8v1h-8zM408 384h1v1h-1zM417 384h1v1h-1zM441 384h2v1h-2zM450 384h4v1h-4zM690 384h1v1h-1zM189 385h1v1h-1zM302 385h1v1h-1zM404 385h4v1h-4zM409 385h8v1h-8zM418 385h6v1h-6zM433 385h8v1h-8zM450 385h1v1h-1zM690 385h1v1h-1zM189 386h1v1h-1zM301 386h1v1h-1zM424 386h1v1h-1zM431 386h2v1h-2zM690 386h1v1h-1zM190 387h1v1h-1zM300 387h1v1h-1zM425 387h6v1h-6zM690 387h1v1h-1zM190 388h1v1h-1zM299 388h1v1h-1zM690 388h1v1h-1zM190 389h1v1h-1zM298 389h1v1h-1zM690 389h1v1h-1zM190 390h1v1h-1zM297 390h1v1h-1zM690 390h1v1h-1zM191 391h1v1h-1zM296 391h1v1h-1zM690 391h1v1h-1zM191 392h1v1h-1zM295 392h1v1h-1zM690 392h1v1h-1zM191 393h1v1h-1zM294 393h1v1h-1zM691 393h1v1h-1zM191 394h1v1h-1zM293 394h1v1h-1zM691 394h1v1h-1zM191 395h1v1h-1zM292 395h1v1h-1zM691 395h1v1h-1zM191 396h1v1h-1zM291 396h1v1h-1zM691 396h1v1h-1zM190 397h1v1h-1zM290 397h1v1h-1zM692 397h1v1h-1zM190 398h1v1h-1zM289 398h1v1h-1zM692 398h1v1h-1zM190 399h1v1h-1zM288 399h1v1h-1zM692 399h1v1h-1zM190 400h1v1h-1zM287 400h1v1h-1zM692 400h1v1h-1zM191 401h1v1h-1zM285 401h2v1h-2zM693 401h1v1h-1zM191 402h1v1h-1zM284 402h1v1h-1zM693 402h3v1h-3zM192 403h1v1h-1zM283 403h1v1h-1zM696 403h3v1h-3zM193 404h1v1h-1zM282 404h1v1h-1zM698 404h1v1h-1zM193 405h1v1h-1zM281 405h1v1h-1zM698 405h1v1h-1zM194 406h1v1h-1zM279 406h2v1h-2zM698 406h1v1h-1zM194 407h1v1h-1zM278 407h1v1h-1zM698 407h1v1h-1zM194 408h1v1h-1zM276 408h2v1h-2zM698 408h1v1h-1zM195 409h1v1h-1zM275 409h1v1h-1zM698 409h1v1h-1zM195 410h1v1h-1zM274 410h1v1h-1zM698 410h3v1h-3zM195 411h1v1h-1zM272 411h2v1h-2zM699 411h1v1h-1zM195 412h1v1h-1zM271 412h1v1h-1zM699 412h1v1h-1zM196 413h1v1h-1zM269 413h2v1h-2zM698 413h1v1h-1zM196 414h1v1h-1zM268 414h1v1h-1zM697 414h1v1h-1zM197 415h1v1h-1zM266 415h2v1h-2zM696 415h1v1h-1zM198 416h1v1h-1zM265 416h1v1h-1zM696 416h1v1h-1zM198 417h1v1h-1zM263 417h2v1h-2zM695 417h1v1h-1zM199 418h1v1h-1zM262 418h1v1h-1zM695 418h1v1h-1zM200 419h1v1h-1zM261 419h1v1h-1zM695 419h1v1h-1zM201 420h1v1h-1zM259 420h2v1h-2zM695 420h1v1h-1zM202 421h1v1h-1zM258 421h1v1h-1zM695 421h1v1h-1zM202 422h1v1h-1zM256 422h2v1h-2zM695 422h1v1h-1zM203 423h1v1h-1zM255 423h1v1h-1zM694 423h1v1h-1zM204 424h1v1h-1zM254 424h1v1h-1zM694 424h1v1h-1zM204 425h1v1h-1zM252 425h2v1h-2zM693 425h1v1h-1zM204 426h1v1h-1zM251 426h1v1h-1zM693 426h1v1h-1zM204 427h1v1h-1zM250 427h1v1h-1zM692 427h1v1h-1zM204 428h1v1h-1zM249 428h1v1h-1zM692 428h1v1h-1zM204 429h1v1h-1zM247 429h2v1h-2zM691 429h1v1h-1zM204 430h1v1h-1zM246 430h1v1h-1zM691 430h1v1h-1zM204 431h1v1h-1zM245 431h1v1h-1zM691 431h1v1h-1zM203 432h1v1h-1zM243 432h2v1h-2zM691 432h1v1h-1zM203 433h1v1h-1zM242 433h1v1h-1zM690 433h1v1h-1zM201 434h2v1h-2zM241 434h1v1h-1zM690 434h1v1h-1zM200 435h1v1h-1zM240 435h1v1h-1zM690 435h1v1h-1zM201 436h1v1h-1zM239 436h1v1h-1zM690 436h1v1h-1zM202 437h1v1h-1zM238 437h1v1h-1zM689 437h1v1h-1zM203 438h1v1h-1zM237 438h1v1h-1zM689 438h1v1h-1zM204 439h1v1h-1zM236 439h1v1h-1zM689 439h1v1h-1zM205 440h1v1h-1zM235 440h1v1h-1zM689 440h1v1h-1zM206 441h1v1h-1zM234 441h1v1h-1zM688 441h1v1h-1zM206 442h1v1h-1zM233 442h1v1h-1zM688 442h1v1h-1zM207 443h1v1h-1zM232 443h1v1h-1zM688 443h1v1h-1zM207 444h1v1h-1zM231 444h1v1h-1zM689 444h1v1h-1zM208 445h1v1h-1zM230 445h1v1h-1zM689 445h1v1h-1zM208 446h1v1h-1zM229 446h1v1h-1zM689 446h1v1h-1zM209 447h1v1h-1zM228 447h1v1h-1zM689 447h1v1h-1zM210 448h1v1h-1zM227 448h1v1h-1zM690 448h1v1h-1zM210 449h1v1h-1zM226 449h1v1h-1zM690 449h1v1h-1zM211 450h1v1h-1zM225 450h1v1h-1zM690 450h1v1h-1zM211 451h1v1h-1zM224 451h1v1h-1zM690 451h1v1h-1zM212 452h1v1h-1zM223 452h1v1h-1zM690 452h1v1h-1zM212 453h1v1h-1zM222 453h1v1h-1zM690 453h1v1h-1zM213 454h1v1h-1zM221 454h1v1h-1zM690 454h1v1h-1zM214 455h1v1h-1zM220 455h1v1h-1zM690 455h1v1h-1zM214 456h1v1h-1zM219 456h1v1h-1zM690 456h1v1h-1zM215 457h1v1h-1zM218 457h1v1h-1zM691 457h1v1h-1zM215 458h1v1h-1zM217 458h1v1h-1zM691 458h1v1h-1zM216 459h1v1h-1zM692 459h1v1h-1zM217 460h1v1h-1zM692 460h1v1h-1zM217 461h1v1h-1zM693 461h1v1h-1zM218 462h1v1h-1zM694 462h1v1h-1zM218 463h1v1h-1zM694 463h1v1h-1zM219 464h1v1h-1zM695 464h1v1h-1zM219 465h1v1h-1zM695 465h1v1h-1zM220 466h1v1h-1zM695 466h1v1h-1zM220 467h1v1h-1zM695 467h1v1h-1zM220 468h1v1h-1zM695 468h1v1h-1zM220 469h1v1h-1zM695 469h1v1h-1zM221 470h1v1h-1zM695 470h1v1h-1zM221 471h1v1h-1zM695 471h1v1h-1zM221 472h1v1h-1zM695 472h1v1h-1zM221 473h1v1h-1zM695 473h1v1h-1zM221 474h1v1h-1zM695 474h1v1h-1zM222 475h1v1h-1zM694 475h1v1h-1zM222 476h1v1h-1zM693 476h1v1h-1zM223 477h1v1h-1zM693 477h1v1h-1zM223 478h1v1h-1zM692 478h1v1h-1zM224 479h1v1h-1zM691 479h1v1h-1zM224 480h1v1h-1zM691 480h1v1h-1zM225 481h1v1h-1zM691 481h1v1h-1zM224 482h1v1h-1zM691 482h1v1h-1zM224 483h1v1h-1zM690 483h1v1h-1zM223 484h1v1h-1zM690 484h1v1h-1zM223 485h1v1h-1zM690 485h1v1h-1zM223 486h1v1h-1zM690 486h1v1h-1zM224 487h1v1h-1zM690 487h1v1h-1zM224 488h1v1h-1zM690 488h1v1h-1zM225 489h1v1h-1zM691 489h1v1h-1zM225 490h1v1h-1zM691 490h1v1h-1zM226 491h5v1h-5zM691 491h1v1h-1zM231 492h1v1h-1zM691 492h1v1h-1zM232 493h1v1h-1zM691 493h1v1h-1zM233 494h1v1h-1zM692 494h1v1h-1zM234 495h1v1h-1zM692 495h1v1h-1zM234 496h1v1h-1zM691 496h1v1h-1zM235 497h1v1h-1zM689 497h2v1h-2zM235 498h1v1h-1zM688 498h1v1h-1zM235 499h1v1h-1zM688 499h1v1h-1zM236 500h1v1h-1zM688 500h1v1h-1zM236 501h1v1h-1zM688 501h1v1h-1zM237 502h1v1h-1zM687 502h1v1h-1zM237 503h1v1h-1zM687 503h1v1h-1zM238 504h1v1h-1zM687 504h1v1h-1zM238 505h1v1h-1zM687 505h1v1h-1zM239 506h1v1h-1zM687 506h1v1h-1zM240 507h1v1h-1zM687 507h1v1h-1zM241 508h2v1h-2zM687 508h1v1h-1zM243 509h1v1h-1zM688 509h1v1h-1zM244 510h1v1h-1zM688 510h1v1h-1zM244 511h1v1h-1zM688 511h1v1h-1zM245 512h1v1h-1zM688 512h1v1h-1zM245 513h1v1h-1zM688 513h1v1h-1zM245 514h1v1h-1zM689 514h1v1h-1zM246 515h1v1h-1zM689 515h1v1h-1zM246 516h1v1h-1zM690 516h1v1h-1zM247 517h1v1h-1zM690 517h1v1h-1zM248 518h2v1h-2zM691 518h2v1h-2zM250 519h1v1h-1zM693 519h1v1h-1zM251 520h1v1h-1zM693 520h1v1h-1zM252 521h1v1h-1zM693 521h1v1h-1zM253 522h1v1h-1zM693 522h1v1h-1zM254 523h1v1h-1zM693 523h1v1h-1zM255 524h1v1h-1zM693 524h1v1h-1zM256 525h1v1h-1zM694 525h1v1h-1zM257 526h1v1h-1zM694 526h1v1h-1zM258 527h1v1h-1zM694 527h1v1h-1zM259 528h1v1h-1zM694 528h1v1h-1zM260 529h1v1h-1zM693 529h1v1h-1zM261 530h1v1h-1zM693 530h1v1h-1zM261 531h1v1h-1zM693 531h1v1h-1zM262 532h1v1h-1zM693 532h1v1h-1zM262 533h1v1h-1zM693 533h1v1h-1zM263 534h1v1h-1zM692 534h1v1h-1zM264 535h1v1h-1zM692 535h1v1h-1zM264 536h1v1h-1zM692 536h1v1h-1zM265 537h1v1h-1zM691 537h1v1h-1zM265 538h1v1h-1zM690 538h1v1h-1zM266 539h1v1h-1zM690 539h1v1h-1zM266 540h1v1h-1zM689 540h1v1h-1zM267 541h1v1h-1zM689 541h1v1h-1zM267 542h1v1h-1zM689 542h1v1h-1zM268 543h1v1h-1zM689 543h1v1h-1zM268 544h1v1h-1zM689 544h1v1h-1zM269 545h1v1h-1zM689 545h1v1h-1zM269 546h1v1h-1zM689 546h1v1h-1zM270 547h1v1h-1zM689 547h1v1h-1zM270 548h1v1h-1zM689 548h1v1h-1zM270 549h1v1h-1zM689 549h1v1h-1zM270 550h1v1h-1zM689 550h1v1h-1zM271 551h1v1h-1zM689 551h1v1h-1zM271 552h1v1h-1zM690 552h2v1h-2zM271 553h1v1h-1zM692 553h2v1h-2zM271 554h1v1h-1zM694 554h1v1h-1zM271 555h1v1h-1zM694 555h1v1h-1zM271 556h1v1h-1zM695 556h1v1h-1zM272 557h1v1h-1zM695 557h1v1h-1zM272 558h1v1h-1zM695 558h1v1h-1zM272 559h1v1h-1zM669 559h6v1h-6zM696 559h1v1h-1zM272 560h1v1h-1zM665 560h4v1h-4zM675 560h6v1h-6zM696 560h1v1h-1zM272 561h1v1h-1zM663 561h2v1h-2zM681 561h3v1h-3zM697 561h1v1h-1zM272 562h1v1h-1zM661 562h2v1h-2zM684 562h1v1h-1zM697 562h1v1h-1zM272 563h1v1h-1zM661 563h1v1h-1zM684 563h1v1h-1zM697 563h1v1h-1zM272 564h1v1h-1zM660 564h1v1h-1zM685 564h2v1h-2zM697 564h1v1h-1zM272 565h1v1h-1zM660 565h1v1h-1zM687 565h2v1h-2zM697 565h1v1h-1zM272 566h1v1h-1zM660 566h1v1h-1zM689 566h2v1h-2zM696 566h2v1h-2zM272 567h1v1h-1zM661 567h1v1h-1zM690 567h1v1h-1zM694 567h2v1h-2zM272 568h1v1h-1zM661 568h1v1h-1zM689 568h1v1h-1zM694 568h1v1h-1zM272 569h1v1h-1zM661 569h1v1h-1zM689 569h1v1h-1zM694 569h1v1h-1zM272 570h1v1h-1zM282 570h1v1h-1zM661 570h1v1h-1zM688 570h1v1h-1zM693 570h1v1h-1zM272 571h1v1h-1zM280 571h3v1h-3zM661 571h1v1h-1zM688 571h1v1h-1zM693 571h1v1h-1zM272 572h1v1h-1zM279 572h1v1h-1zM283 572h1v1h-1zM661 572h1v1h-1zM687 572h1v1h-1zM693 572h1v1h-1zM272 573h1v1h-1zM278 573h1v1h-1zM283 573h1v1h-1zM661 573h1v1h-1zM686 573h1v1h-1zM693 573h1v1h-1zM272 574h1v1h-1zM278 574h1v1h-1zM284 574h1v1h-1zM660 574h1v1h-1zM687 574h1v1h-1zM694 574h1v1h-1zM271 575h1v1h-1zM277 575h1v1h-1zM285 575h1v1h-1zM659 575h1v1h-1zM687 575h1v1h-1zM695 575h2v1h-2zM271 576h1v1h-1zM277 576h1v1h-1zM285 576h1v1h-1zM659 576h1v1h-1zM688 576h1v1h-1zM697 576h1v1h-1zM270 577h1v1h-1zM275 577h2v1h-2zM286 577h1v1h-1zM658 577h1v1h-1zM689 577h1v1h-1zM697 577h1v1h-1zM260 578h3v1h-3zM270 578h1v1h-1zM273 578h2v1h-2zM286 578h1v1h-1zM658 578h1v1h-1zM689 578h1v1h-1zM698 578h1v1h-1zM262 579h3v1h-3zM269 579h1v1h-1zM274 579h4v1h-4zM286 579h1v1h-1zM657 579h1v1h-1zM690 579h1v1h-1zM698 579h1v1h-1zM263 580h2v1h-2zM269 580h1v1h-1zM277 580h1v1h-1zM286 580h1v1h-1zM657 580h1v1h-1zM689 580h1v1h-1zM698 580h1v1h-1zM263 581h1v1h-1zM265 581h1v1h-1zM268 581h1v1h-1zM277 581h1v1h-1zM286 581h1v1h-1zM656 581h1v1h-1zM688 581h1v1h-1zM698 581h1v1h-1zM263 582h1v1h-1zM265 582h1v1h-1zM269 582h1v1h-1zM276 582h1v1h-1zM287 582h1v1h-1zM655 582h1v1h-1zM687 582h1v1h-1zM697 582h1v1h-1zM263 583h1v1h-1zM266 583h1v1h-1zM269 583h1v1h-1zM276 583h1v1h-1zM287 583h1v1h-1zM654 583h1v1h-1zM686 583h1v1h-1zM697 583h1v1h-1zM263 584h1v1h-1zM266 584h1v1h-1zM270 584h2v1h-2zM275 584h1v1h-1zM287 584h1v1h-1zM653 584h1v1h-1zM686 584h1v1h-1zM696 584h1v1h-1zM263 585h1v1h-1zM266 585h1v1h-1zM272 585h3v1h-3zM287 585h1v1h-1zM652 585h1v1h-1zM685 585h1v1h-1zM696 585h1v1h-1zM263 586h1v1h-1zM267 586h1v1h-1zM288 586h1v1h-1zM651 586h1v1h-1zM685 586h1v1h-1zM695 586h1v1h-1zM263 587h1v1h-1zM267 587h1v1h-1zM288 587h1v1h-1zM652 587h1v1h-1zM684 587h1v1h-1zM695 587h1v1h-1zM263 588h1v1h-1zM268 588h1v1h-1zM289 588h1v1h-1zM653 588h1v1h-1zM685 588h1v1h-1zM694 588h1v1h-1zM264 589h1v1h-1zM268 589h1v1h-1zM289 589h1v1h-1zM653 589h1v1h-1zM685 589h1v1h-1zM694 589h1v1h-1zM265 590h1v1h-1zM268 590h1v1h-1zM290 590h1v1h-1zM653 590h1v1h-1zM686 590h2v1h-2zM694 590h1v1h-1zM265 591h1v1h-1zM269 591h1v1h-1zM291 591h1v1h-1zM652 591h1v1h-1zM688 591h2v1h-2zM693 591h1v1h-1zM266 592h1v1h-1zM269 592h3v1h-3zM291 592h1v1h-1zM652 592h1v1h-1zM689 592h1v1h-1zM693 592h1v1h-1zM266 593h1v1h-1zM271 593h1v1h-1zM292 593h1v1h-1zM652 593h1v1h-1zM689 593h1v1h-1zM693 593h1v1h-1zM265 594h1v1h-1zM272 594h1v1h-1zM274 594h2v1h-2zM293 594h1v1h-1zM651 594h1v1h-1zM689 594h1v1h-1zM692 594h1v1h-1zM265 595h1v1h-1zM272 595h2v1h-2zM275 595h1v1h-1zM294 595h1v1h-1zM651 595h1v1h-1zM689 595h3v1h-3zM265 596h1v1h-1zM276 596h1v1h-1zM278 596h2v1h-2zM295 596h1v1h-1zM650 596h1v1h-1zM265 597h1v1h-1zM276 597h2v1h-2zM279 597h1v1h-1zM295 597h1v1h-1zM650 597h1v1h-1zM684 597h3v1h-3zM691 597h2v1h-2zM264 598h1v1h-1zM279 598h1v1h-1zM296 598h1v1h-1zM649 598h1v1h-1zM682 598h2v1h-2zM687 598h4v1h-4zM693 598h1v1h-1zM264 599h1v1h-1zM279 599h1v1h-1zM297 599h1v1h-1zM650 599h1v1h-1zM682 599h1v1h-1zM694 599h1v1h-1zM264 600h1v1h-1zM279 600h1v1h-1zM298 600h1v1h-1zM650 600h1v1h-1zM682 600h1v1h-1zM694 600h1v1h-1zM265 601h1v1h-1zM280 601h1v1h-1zM299 601h1v1h-1zM304 601h1v1h-1zM651 601h2v1h-2zM683 601h1v1h-1zM695 601h1v1h-1zM265 602h1v1h-1zM281 602h1v1h-1zM300 602h1v1h-1zM304 602h2v1h-2zM652 602h1v1h-1zM683 602h1v1h-1zM695 602h1v1h-1zM265 603h1v1h-1zM282 603h1v1h-1zM301 603h1v1h-1zM303 603h1v1h-1zM306 603h2v1h-2zM652 603h1v1h-1zM684 603h1v1h-1zM695 603h1v1h-1zM266 604h1v1h-1zM283 604h1v1h-1zM301 604h1v1h-1zM303 604h1v1h-1zM308 604h1v1h-1zM652 604h1v1h-1zM685 604h3v1h-3zM695 604h1v1h-1zM266 605h1v1h-1zM284 605h2v1h-2zM301 605h1v1h-1zM303 605h1v1h-1zM309 605h1v1h-1zM652 605h1v1h-1zM688 605h3v1h-3zM695 605h1v1h-1zM267 606h1v1h-1zM286 606h2v1h-2zM302 606h2v1h-2zM310 606h1v1h-1zM652 606h1v1h-1zM691 606h2v1h-2zM695 606h1v1h-1zM267 607h1v1h-1zM288 607h1v1h-1zM302 607h1v1h-1zM311 607h1v1h-1zM652 607h1v1h-1zM693 607h2v1h-2zM268 608h1v1h-1zM289 608h1v1h-1zM302 608h1v1h-1zM311 608h1v1h-1zM651 608h1v1h-1zM268 609h1v1h-1zM289 609h1v1h-1zM311 609h1v1h-1zM651 609h1v1h-1zM269 610h1v1h-1zM290 610h4v1h-4zM307 610h2v1h-2zM311 610h1v1h-1zM650 610h1v1h-1zM269 611h1v1h-1zM294 611h2v1h-2zM308 611h4v1h-4zM650 611h1v1h-1zM269 612h1v1h-1zM296 612h1v1h-1zM310 612h2v1h-2zM649 612h1v1h-1zM270 613h1v1h-1zM296 613h1v1h-1zM311 613h1v1h-1zM648 613h1v1h-1zM270 614h1v1h-1zM297 614h1v1h-1zM310 614h1v1h-1zM648 614h1v1h-1zM270 615h1v1h-1zM297 615h1v1h-1zM310 615h1v1h-1zM647 615h1v1h-1zM271 616h1v1h-1zM298 616h1v1h-1zM310 616h1v1h-1zM647 616h1v1h-1zM271 617h1v1h-1zM298 617h1v1h-1zM309 617h1v1h-1zM647 617h1v1h-1zM271 618h1v1h-1zM298 618h1v1h-1zM309 618h1v1h-1zM648 618h1v1h-1zM271 619h1v1h-1zM299 619h1v1h-1zM308 619h1v1h-1zM648 619h1v1h-1zM271 620h2v1h-2zM299 620h1v1h-1zM308 620h1v1h-1zM648 620h1v1h-1zM271 621h2v1h-2zM299 621h1v1h-1zM302 621h6v1h-6zM648 621h1v1h-1zM272 622h1v1h-1zM299 622h1v1h-1zM301 622h1v1h-1zM307 622h1v1h-1zM649 622h1v1h-1zM272 623h1v1h-1zM300 623h1v1h-1zM649 623h1v1h-1zM272 624h1v1h-1zM650 624h1v1h-1zM272 625h1v1h-1zM650 625h1v1h-1zM271 626h1v1h-1zM650 626h1v1h-1zM271 627h1v1h-1zM650 627h1v1h-1zM270 628h1v1h-1zM649 628h1v1h-1zM270 629h1v1h-1zM649 629h1v1h-1zM270 630h1v1h-1zM649 630h1v1h-1zM271 631h1v1h-1zM649 631h1v1h-1zM271 632h1v1h-1zM648 632h1v1h-1zM271 633h1v1h-1zM648 633h1v1h-1zM272 634h1v1h-1zM648 634h1v1h-1zM272 635h1v1h-1zM649 635h1v1h-1zM272 636h1v1h-1zM649 636h1v1h-1zM272 637h1v1h-1zM649 637h2v1h-2zM272 638h1v1h-1zM645 638h1v1h-1zM649 638h1v1h-1zM272 639h1v1h-1zM644 639h1v1h-1zM646 639h2v1h-2zM649 639h1v1h-1zM273 640h1v1h-1zM636 640h4v1h-4zM643 640h1v1h-1zM648 640h1v1h-1zM273 641h1v1h-1zM636 641h1v1h-1zM639 641h1v1h-1zM642 641h1v1h-1zM274 642h1v1h-1zM636 642h1v1h-1zM639 642h1v1h-1zM642 642h1v1h-1zM274 643h1v1h-1zM636 643h1v1h-1zM639 643h1v1h-1zM642 643h1v1h-1zM275 644h1v1h-1zM633 644h4v1h-4zM640 644h3v1h-3zM276 645h1v1h-1zM633 645h1v1h-1zM642 645h1v1h-1zM277 646h1v1h-1zM633 646h1v1h-1zM278 647h1v1h-1zM633 647h4v1h-4zM278 648h1v1h-1zM637 648h1v1h-1zM658 648h2v1h-2zM278 649h1v1h-1zM637 649h1v1h-1zM657 649h1v1h-1zM660 649h1v1h-1zM278 650h1v1h-1zM637 650h1v1h-1zM657 650h1v1h-1zM660 650h1v1h-1zM278 651h1v1h-1zM637 651h1v1h-1zM656 651h1v1h-1zM661 651h4v1h-4zM278 652h1v1h-1zM638 652h1v1h-1zM656 652h1v1h-1zM665 652h1v1h-1zM277 653h1v1h-1zM639 653h1v1h-1zM655 653h1v1h-1zM666 653h1v1h-1zM277 654h1v1h-1zM640 654h1v1h-1zM655 654h1v1h-1zM667 654h1v1h-1zM276 655h1v1h-1zM640 655h1v1h-1zM654 655h1v1h-1zM667 655h1v1h-1zM274 656h3v1h-3zM640 656h1v1h-1zM654 656h1v1h-1zM667 656h1v1h-1zM275 657h1v1h-1zM279 657h1v1h-1zM640 657h1v1h-1zM654 657h1v1h-1zM667 657h1v1h-1zM275 658h1v1h-1zM277 658h2v1h-2zM280 658h1v1h-1zM640 658h1v1h-1zM654 658h1v1h-1zM668 658h1v1h-1zM276 659h1v1h-1zM281 659h1v1h-1zM640 659h1v1h-1zM654 659h1v1h-1zM668 659h1v1h-1zM282 660h1v1h-1zM640 660h1v1h-1zM654 660h1v1h-1zM669 660h1v1h-1zM283 661h1v1h-1zM641 661h1v1h-1zM654 661h1v1h-1zM670 661h1v1h-1zM284 662h1v1h-1zM642 662h1v1h-1zM653 662h1v1h-1zM670 662h1v1h-1zM285 663h2v1h-2zM643 663h1v1h-1zM653 663h1v1h-1zM670 663h1v1h-1zM287 664h1v1h-1zM643 664h1v1h-1zM652 664h1v1h-1zM655 664h1v1h-1zM670 664h1v1h-1zM287 665h1v1h-1zM643 665h1v1h-1zM652 665h3v1h-3zM656 665h1v1h-1zM662 665h1v1h-1zM669 665h1v1h-1zM287 666h1v1h-1zM643 666h1v1h-1zM657 666h5v1h-5zM663 666h6v1h-6zM288 667h1v1h-1zM642 667h1v1h-1zM656 667h1v1h-1zM660 667h1v1h-1zM288 668h1v1h-1zM642 668h1v1h-1zM656 668h1v1h-1zM660 668h1v1h-1zM288 669h1v1h-1zM641 669h1v1h-1zM656 669h1v1h-1zM660 669h1v1h-1zM288 670h1v1h-1zM641 670h1v1h-1zM656 670h1v1h-1zM660 670h1v1h-1zM289 671h1v1h-1zM640 671h1v1h-1zM652 671h4v1h-4zM661 671h1v1h-1zM289 672h1v1h-1zM640 672h1v1h-1zM652 672h1v1h-1zM661 672h1v1h-1zM290 673h1v1h-1zM641 673h1v1h-1zM652 673h1v1h-1zM661 673h1v1h-1zM290 674h1v1h-1zM641 674h1v1h-1zM652 674h1v1h-1zM661 674h1v1h-1zM291 675h1v1h-1zM641 675h1v1h-1zM651 675h1v1h-1zM661 675h1v1h-1zM291 676h1v1h-1zM641 676h1v1h-1zM650 676h1v1h-1zM658 676h1v1h-1zM661 676h1v1h-1zM291 677h1v1h-1zM640 677h1v1h-1zM650 677h1v1h-1zM655 677h3v1h-3zM659 677h3v1h-3zM291 678h1v1h-1zM640 678h1v1h-1zM650 678h1v1h-1zM654 678h1v1h-1zM291 679h1v1h-1zM639 679h1v1h-1zM650 679h1v1h-1zM654 679h1v1h-1zM290 680h1v1h-1zM635 680h4v1h-4zM650 680h4v1h-4zM290 681h1v1h-1zM633 681h2v1h-2zM290 682h1v1h-1zM632 682h1v1h-1zM290 683h1v1h-1zM632 683h1v1h-1zM291 684h1v1h-1zM632 684h1v1h-1zM291 685h1v1h-1zM632 685h1v1h-1zM292 686h1v1h-1zM584 686h1v1h-1zM631 686h1v1h-1zM293 687h1v1h-1zM582 687h2v1h-2zM585 687h3v1h-3zM631 687h1v1h-1zM294 688h1v1h-1zM571 688h4v1h-4zM580 688h4v1h-4zM588 688h1v1h-1zM630 688h1v1h-1zM294 689h1v1h-1zM572 689h1v1h-1zM575 689h5v1h-5zM583 689h1v1h-1zM589 689h1v1h-1zM630 689h1v1h-1zM295 690h1v1h-1zM573 690h1v1h-1zM583 690h1v1h-1zM590 690h4v1h-4zM630 690h1v1h-1zM295 691h1v1h-1zM574 691h1v1h-1zM593 691h1v1h-1zM630 691h1v1h-1zM295 692h1v1h-1zM575 692h1v1h-1zM593 692h1v1h-1zM630 692h1v1h-1zM295 693h1v1h-1zM576 693h1v1h-1zM580 693h1v1h-1zM593 693h1v1h-1zM631 693h1v1h-1zM295 694h1v1h-1zM577 694h1v1h-1zM579 694h1v1h-1zM581 694h1v1h-1zM594 694h1v1h-1zM629 694h1v1h-1zM631 694h1v1h-1zM295 695h1v1h-1zM577 695h1v1h-1zM579 695h1v1h-1zM582 695h10v1h-10zM594 695h1v1h-1zM628 695h1v1h-1zM630 695h2v1h-2zM295 696h1v1h-1zM556 696h1v1h-1zM578 696h1v1h-1zM591 696h2v1h-2zM595 696h1v1h-1zM628 696h1v1h-1zM630 696h2v1h-2zM295 697h1v1h-1zM555 697h1v1h-1zM557 697h1v1h-1zM592 697h2v1h-2zM596 697h1v1h-1zM628 697h1v1h-1zM631 697h1v1h-1zM295 698h1v1h-1zM555 698h1v1h-1zM558 698h1v1h-1zM589 698h6v1h-6zM596 698h1v1h-1zM628 698h1v1h-1zM631 698h1v1h-1zM296 699h1v1h-1zM555 699h1v1h-1zM558 699h1v1h-1zM584 699h5v1h-5zM596 699h1v1h-1zM627 699h1v1h-1zM635 699h1v1h-1zM296 700h1v1h-1zM555 700h1v1h-1zM559 700h1v1h-1zM582 700h2v1h-2zM596 700h1v1h-1zM627 700h1v1h-1zM632 700h3v1h-3zM636 700h1v1h-1zM296 701h1v1h-1zM555 701h2v1h-2zM559 701h1v1h-1zM582 701h1v1h-1zM595 701h1v1h-1zM626 701h1v1h-1zM631 701h1v1h-1zM637 701h2v1h-2zM296 702h1v1h-1zM557 702h1v1h-1zM559 702h1v1h-1zM581 702h1v1h-1zM595 702h1v1h-1zM625 702h1v1h-1zM631 702h1v1h-1zM639 702h1v1h-1zM297 703h1v1h-1zM558 703h2v1h-2zM581 703h1v1h-1zM595 703h2v1h-2zM625 703h1v1h-1zM631 703h1v1h-1zM639 703h1v1h-1zM643 703h2v1h-2zM297 704h1v1h-1zM558 704h1v1h-1zM560 704h1v1h-1zM581 704h1v1h-1zM597 704h2v1h-2zM625 704h1v1h-1zM632 704h1v1h-1zM639 704h1v1h-1zM641 704h3v1h-3zM297 705h1v1h-1zM558 705h1v1h-1zM561 705h5v1h-5zM580 705h1v1h-1zM598 705h2v1h-2zM624 705h1v1h-1zM632 705h1v1h-1zM639 705h2v1h-2zM643 705h1v1h-1zM298 706h1v1h-1zM558 706h1v1h-1zM566 706h2v1h-2zM580 706h1v1h-1zM599 706h1v1h-1zM624 706h1v1h-1zM633 706h2v1h-2zM643 706h1v1h-1zM299 707h1v1h-1zM558 707h1v1h-1zM568 707h1v1h-1zM580 707h1v1h-1zM599 707h4v1h-4zM610 707h2v1h-2zM624 707h1v1h-1zM635 707h1v1h-1zM644 707h1v1h-1zM299 708h1v1h-1zM559 708h1v1h-1zM568 708h1v1h-1zM580 708h1v1h-1zM603 708h2v1h-2zM608 708h2v1h-2zM611 708h2v1h-2zM621 708h1v1h-1zM624 708h9v1h-9zM635 708h1v1h-1zM644 708h3v1h-3zM300 709h1v1h-1zM559 709h1v1h-1zM568 709h1v1h-1zM579 709h1v1h-1zM605 709h3v1h-3zM613 709h1v1h-1zM620 709h1v1h-1zM622 709h1v1h-1zM633 709h3v1h-3zM647 709h1v1h-1zM301 710h1v1h-1zM560 710h1v1h-1zM568 710h1v1h-1zM572 710h1v1h-1zM579 710h1v1h-1zM614 710h6v1h-6zM623 710h1v1h-1zM647 710h1v1h-1zM302 711h1v1h-1zM560 711h1v1h-1zM567 711h1v1h-1zM571 711h1v1h-1zM573 711h8v1h-8zM624 711h1v1h-1zM647 711h1v1h-1zM303 712h2v1h-2zM560 712h1v1h-1zM567 712h1v1h-1zM571 712h1v1h-1zM575 712h1v1h-1zM581 712h1v1h-1zM623 712h1v1h-1zM647 712h1v1h-1zM305 713h1v1h-1zM561 713h1v1h-1zM567 713h1v1h-1zM570 713h1v1h-1zM575 713h1v1h-1zM582 713h1v1h-1zM623 713h1v1h-1zM647 713h1v1h-1zM305 714h1v1h-1zM560 714h1v1h-1zM567 714h4v1h-4zM574 714h1v1h-1zM583 714h2v1h-2zM623 714h1v1h-1zM647 714h1v1h-1zM305 715h1v1h-1zM560 715h1v1h-1zM573 715h1v1h-1zM584 715h1v1h-1zM624 715h3v1h-3zM647 715h1v1h-1zM306 716h1v1h-1zM560 716h1v1h-1zM573 716h1v1h-1zM584 716h1v1h-1zM603 716h1v1h-1zM626 716h3v1h-3zM646 716h1v1h-1zM306 717h1v1h-1zM560 717h1v1h-1zM573 717h1v1h-1zM584 717h1v1h-1zM604 717h2v1h-2zM628 717h1v1h-1zM646 717h1v1h-1zM306 718h1v1h-1zM560 718h1v1h-1zM573 718h1v1h-1zM584 718h1v1h-1zM605 718h3v1h-3zM628 718h1v1h-1zM647 718h1v1h-1zM306 719h1v1h-1zM559 719h1v1h-1zM573 719h1v1h-1zM585 719h1v1h-1zM605 719h1v1h-1zM608 719h2v1h-2zM628 719h1v1h-1zM647 719h1v1h-1zM306 720h1v1h-1zM558 720h1v1h-1zM573 720h1v1h-1zM585 720h1v1h-1zM604 720h1v1h-1zM610 720h2v1h-2zM628 720h1v1h-1zM647 720h1v1h-1zM305 721h1v1h-1zM557 721h1v1h-1zM574 721h1v1h-1zM586 721h1v1h-1zM605 721h1v1h-1zM611 721h1v1h-1zM622 721h2v1h-2zM627 721h2v1h-2zM647 721h1v1h-1zM305 722h1v1h-1zM557 722h1v1h-1zM567 722h1v1h-1zM575 722h1v1h-1zM586 722h1v1h-1zM605 722h1v1h-1zM611 722h1v1h-1zM623 722h5v1h-5zM647 722h1v1h-1zM305 723h3v1h-3zM314 723h3v1h-3zM556 723h1v1h-1zM567 723h2v1h-2zM576 723h1v1h-1zM585 723h1v1h-1zM605 723h1v1h-1zM611 723h1v1h-1zM625 723h2v1h-2zM647 723h1v1h-1zM308 724h6v1h-6zM317 724h2v1h-2zM556 724h1v1h-1zM567 724h2v1h-2zM576 724h1v1h-1zM585 724h1v1h-1zM605 724h1v1h-1zM610 724h1v1h-1zM626 724h1v1h-1zM645 724h2v1h-2zM319 725h2v1h-2zM556 725h1v1h-1zM567 725h2v1h-2zM576 725h1v1h-1zM585 725h1v1h-1zM604 725h1v1h-1zM610 725h1v1h-1zM626 725h1v1h-1zM643 725h2v1h-2zM320 726h1v1h-1zM556 726h1v1h-1zM566 726h1v1h-1zM569 726h1v1h-1zM576 726h1v1h-1zM584 726h1v1h-1zM604 726h1v1h-1zM609 726h1v1h-1zM626 726h1v1h-1zM642 726h1v1h-1zM321 727h1v1h-1zM556 727h1v1h-1zM566 727h1v1h-1zM569 727h1v1h-1zM576 727h1v1h-1zM584 727h1v1h-1zM597 727h7v1h-7zM608 727h1v1h-1zM626 727h1v1h-1zM641 727h1v1h-1zM321 728h1v1h-1zM556 728h1v1h-1zM566 728h1v1h-1zM569 728h1v1h-1zM576 728h1v1h-1zM584 728h1v1h-1zM596 728h1v1h-1zM608 728h1v1h-1zM626 728h1v1h-1zM641 728h1v1h-1zM322 729h1v1h-1zM556 729h1v1h-1zM566 729h1v1h-1zM569 729h1v1h-1zM576 729h1v1h-1zM583 729h1v1h-1zM596 729h1v1h-1zM608 729h1v1h-1zM626 729h2v1h-2zM640 729h1v1h-1zM322 730h1v1h-1zM549 730h1v1h-1zM556 730h1v1h-1zM567 730h1v1h-1zM570 730h1v1h-1zM576 730h1v1h-1zM583 730h1v1h-1zM596 730h1v1h-1zM608 730h1v1h-1zM627 730h1v1h-1zM639 730h1v1h-1zM323 731h1v1h-1zM549 731h2v1h-2zM556 731h1v1h-1zM567 731h1v1h-1zM570 731h1v1h-1zM575 731h1v1h-1zM582 731h1v1h-1zM596 731h1v1h-1zM609 731h1v1h-1zM628 731h5v1h-5zM638 731h1v1h-1zM324 732h1v1h-1zM549 732h1v1h-1zM551 732h1v1h-1zM557 732h1v1h-1zM568 732h1v1h-1zM571 732h1v1h-1zM575 732h1v1h-1zM582 732h1v1h-1zM596 732h1v1h-1zM609 732h5v1h-5zM631 732h7v1h-7zM325 733h1v1h-1zM549 733h1v1h-1zM552 733h1v1h-1zM557 733h1v1h-1zM567 733h1v1h-1zM572 733h1v1h-1zM574 733h1v1h-1zM576 733h6v1h-6zM596 733h1v1h-1zM613 733h1v1h-1zM630 733h1v1h-1zM638 733h2v1h-2zM325 734h1v1h-1zM548 734h1v1h-1zM552 734h1v1h-1zM557 734h1v1h-1zM567 734h1v1h-1zM572 734h2v1h-2zM575 734h1v1h-1zM596 734h1v1h-1zM613 734h1v1h-1zM616 734h1v1h-1zM630 734h1v1h-1zM640 734h1v1h-1zM326 735h1v1h-1zM548 735h1v1h-1zM552 735h1v1h-1zM557 735h1v1h-1zM567 735h8v1h-8zM596 735h1v1h-1zM613 735h3v1h-3zM617 735h1v1h-1zM627 735h1v1h-1zM629 735h1v1h-1zM641 735h1v1h-1zM327 736h3v1h-3zM548 736h1v1h-1zM553 736h1v1h-1zM557 736h1v1h-1zM596 736h1v1h-1zM613 736h1v1h-1zM617 736h1v1h-1zM626 736h1v1h-1zM628 736h2v1h-2zM641 736h1v1h-1zM330 737h3v1h-3zM547 737h1v1h-1zM553 737h1v1h-1zM557 737h1v1h-1zM596 737h1v1h-1zM618 737h1v1h-1zM621 737h1v1h-1zM626 737h1v1h-1zM628 737h2v1h-2zM641 737h1v1h-1zM332 738h1v1h-1zM547 738h1v1h-1zM554 738h1v1h-1zM557 738h1v1h-1zM596 738h1v1h-1zM618 738h3v1h-3zM622 738h1v1h-1zM626 738h1v1h-1zM629 738h1v1h-1zM641 738h1v1h-1zM331 739h1v1h-1zM547 739h1v1h-1zM554 739h3v1h-3zM596 739h1v1h-1zM623 739h4v1h-4zM629 739h1v1h-1zM641 739h1v1h-1zM331 740h1v1h-1zM547 740h1v1h-1zM561 740h1v1h-1zM597 740h1v1h-1zM641 740h1v1h-1zM330 741h1v1h-1zM547 741h1v1h-1zM559 741h2v1h-2zM562 741h1v1h-1zM597 741h1v1h-1zM641 741h1v1h-1zM330 742h1v1h-1zM548 742h3v1h-3zM557 742h2v1h-2zM562 742h1v1h-1zM598 742h1v1h-1zM641 742h1v1h-1zM329 743h1v1h-1zM550 743h1v1h-1zM555 743h2v1h-2zM562 743h1v1h-1zM598 743h2v1h-2zM642 743h1v1h-1zM329 744h1v1h-1zM551 744h1v1h-1zM555 744h1v1h-1zM562 744h1v1h-1zM600 744h4v1h-4zM643 744h1v1h-1zM330 745h1v1h-1zM552 745h1v1h-1zM555 745h1v1h-1zM563 745h1v1h-1zM603 745h1v1h-1zM644 745h1v1h-1zM331 746h1v1h-1zM552 746h1v1h-1zM555 746h1v1h-1zM563 746h1v1h-1zM604 746h1v1h-1zM607 746h4v1h-4zM644 746h1v1h-1zM331 747h1v1h-1zM551 747h1v1h-1zM555 747h1v1h-1zM564 747h1v1h-1zM605 747h2v1h-2zM611 747h2v1h-2zM645 747h1v1h-1zM332 748h1v1h-1zM335 748h2v1h-2zM550 748h1v1h-1zM555 748h1v1h-1zM565 748h1v1h-1zM612 748h2v1h-2zM645 748h1v1h-1zM333 749h2v1h-2zM336 749h1v1h-1zM510 749h1v1h-1zM549 749h1v1h-1zM555 749h1v1h-1zM565 749h1v1h-1zM611 749h1v1h-1zM644 749h1v1h-1zM337 750h1v1h-1zM509 750h1v1h-1zM511 750h1v1h-1zM548 750h1v1h-1zM555 750h1v1h-1zM558 750h1v1h-1zM565 750h1v1h-1zM608 750h4v1h-4zM628 750h1v1h-1zM643 750h1v1h-1zM337 751h1v1h-1zM509 751h1v1h-1zM512 751h1v1h-1zM547 751h1v1h-1zM555 751h3v1h-3zM565 751h1v1h-1zM607 751h1v1h-1zM628 751h2v1h-2zM643 751h1v1h-1zM337 752h1v1h-1zM509 752h1v1h-1zM511 752h2v1h-2zM546 752h1v1h-1zM557 752h1v1h-1zM565 752h1v1h-1zM606 752h1v1h-1zM628 752h2v1h-2zM642 752h1v1h-1zM338 753h1v1h-1zM509 753h1v1h-1zM511 753h1v1h-1zM546 753h1v1h-1zM557 753h1v1h-1zM565 753h1v1h-1zM606 753h1v1h-1zM628 753h1v1h-1zM630 753h1v1h-1zM642 753h1v1h-1zM339 754h1v1h-1zM508 754h1v1h-1zM511 754h1v1h-1zM545 754h1v1h-1zM551 754h7v1h-7zM565 754h1v1h-1zM606 754h1v1h-1zM628 754h1v1h-1zM631 754h3v1h-3zM642 754h1v1h-1zM645 754h1v1h-1zM339 755h1v1h-1zM508 755h1v1h-1zM511 755h1v1h-1zM545 755h1v1h-1zM550 755h1v1h-1zM565 755h1v1h-1zM606 755h1v1h-1zM627 755h1v1h-1zM633 755h1v1h-1zM642 755h3v1h-3zM646 755h3v1h-3zM340 756h1v1h-1zM508 756h1v1h-1zM510 756h1v1h-1zM544 756h1v1h-1zM550 756h1v1h-1zM565 756h1v1h-1zM606 756h1v1h-1zM627 756h1v1h-1zM633 756h1v1h-1zM647 756h1v1h-1zM341 757h1v1h-1zM508 757h1v1h-1zM510 757h1v1h-1zM544 757h1v1h-1zM549 757h1v1h-1zM565 757h1v1h-1zM606 757h1v1h-1zM627 757h1v1h-1zM633 757h1v1h-1zM646 757h1v1h-1zM341 758h1v1h-1zM508 758h1v1h-1zM510 758h1v1h-1zM544 758h1v1h-1zM549 758h1v1h-1zM565 758h1v1h-1zM606 758h1v1h-1zM628 758h2v1h-2zM633 758h1v1h-1zM645 758h1v1h-1zM342 759h1v1h-1zM507 759h1v1h-1zM510 759h1v1h-1zM522 759h1v1h-1zM544 759h1v1h-1zM550 759h3v1h-3zM557 759h1v1h-1zM565 759h1v1h-1zM606 759h1v1h-1zM630 759h1v1h-1zM633 759h1v1h-1zM644 759h1v1h-1zM342 760h1v1h-1zM507 760h1v1h-1zM511 760h1v1h-1zM523 760h1v1h-1zM544 760h1v1h-1zM553 760h1v1h-1zM555 760h2v1h-2zM558 760h1v1h-1zM566 760h2v1h-2zM606 760h2v1h-2zM629 760h1v1h-1zM633 760h1v1h-1zM644 760h1v1h-1zM342 761h2v1h-2zM506 761h1v1h-1zM511 761h1v1h-1zM523 761h2v1h-2zM544 761h1v1h-1zM554 761h1v1h-1zM558 761h1v1h-1zM561 761h1v1h-1zM568 761h1v1h-1zM608 761h1v1h-1zM628 761h1v1h-1zM633 761h1v1h-1zM643 761h1v1h-1zM344 762h3v1h-3zM506 762h1v1h-1zM511 762h1v1h-1zM523 762h2v1h-2zM545 762h1v1h-1zM559 762h2v1h-2zM562 762h2v1h-2zM567 762h1v1h-1zM609 762h1v1h-1zM628 762h1v1h-1zM633 762h2v1h-2zM643 762h1v1h-1zM347 763h1v1h-1zM506 763h1v1h-1zM511 763h1v1h-1zM523 763h1v1h-1zM525 763h1v1h-1zM546 763h1v1h-1zM564 763h1v1h-1zM567 763h1v1h-1zM609 763h1v1h-1zM628 763h1v1h-1zM635 763h1v1h-1zM642 763h1v1h-1zM347 764h1v1h-1zM506 764h1v1h-1zM511 764h2v1h-2zM523 764h1v1h-1zM525 764h1v1h-1zM546 764h1v1h-1zM564 764h1v1h-1zM567 764h1v1h-1zM610 764h1v1h-1zM625 764h3v1h-3zM629 764h1v1h-1zM636 764h1v1h-1zM642 764h1v1h-1zM348 765h1v1h-1zM507 765h1v1h-1zM513 765h3v1h-3zM522 765h1v1h-1zM524 765h1v1h-1zM546 765h1v1h-1zM564 765h1v1h-1zM567 765h1v1h-1zM611 765h1v1h-1zM624 765h1v1h-1zM628 765h1v1h-1zM630 765h1v1h-1zM637 765h2v1h-2zM643 765h1v1h-1zM348 766h1v1h-1zM508 766h1v1h-1zM516 766h2v1h-2zM522 766h1v1h-1zM524 766h1v1h-1zM546 766h1v1h-1zM563 766h1v1h-1zM568 766h2v1h-2zM611 766h1v1h-1zM623 766h1v1h-1zM629 766h1v1h-1zM639 766h2v1h-2zM643 766h1v1h-1zM348 767h1v1h-1zM509 767h3v1h-3zM518 767h1v1h-1zM521 767h1v1h-1zM524 767h1v1h-1zM546 767h1v1h-1zM559 767h1v1h-1zM562 767h2v1h-2zM570 767h1v1h-1zM612 767h5v1h-5zM622 767h1v1h-1zM641 767h1v1h-1zM644 767h1v1h-1zM348 768h1v1h-1zM512 768h1v1h-1zM518 768h1v1h-1zM520 768h1v1h-1zM524 768h1v1h-1zM546 768h1v1h-1zM560 768h2v1h-2zM570 768h1v1h-1zM616 768h1v1h-1zM621 768h1v1h-1zM642 768h1v1h-1zM645 768h1v1h-1zM349 769h1v1h-1zM366 769h3v1h-3zM513 769h1v1h-1zM519 769h1v1h-1zM525 769h1v1h-1zM546 769h1v1h-1zM560 769h1v1h-1zM570 769h1v1h-1zM617 769h1v1h-1zM620 769h1v1h-1zM643 769h1v1h-1zM645 769h1v1h-1zM349 770h1v1h-1zM364 770h2v1h-2zM369 770h3v1h-3zM514 770h2v1h-2zM525 770h1v1h-1zM546 770h1v1h-1zM560 770h1v1h-1zM570 770h1v1h-1zM618 770h1v1h-1zM620 770h1v1h-1zM644 770h3v1h-3zM349 771h1v1h-1zM364 771h1v1h-1zM371 771h1v1h-1zM516 771h2v1h-2zM525 771h1v1h-1zM545 771h1v1h-1zM560 771h1v1h-1zM570 771h1v1h-1zM619 771h2v1h-2zM349 772h1v1h-1zM364 772h1v1h-1zM371 772h1v1h-1zM518 772h1v1h-1zM525 772h1v1h-1zM545 772h1v1h-1zM560 772h1v1h-1zM569 772h1v1h-1zM619 772h2v1h-2zM350 773h1v1h-1zM364 773h1v1h-1zM371 773h1v1h-1zM518 773h1v1h-1zM526 773h2v1h-2zM545 773h1v1h-1zM560 773h1v1h-1zM565 773h3v1h-3zM569 773h1v1h-1zM620 773h1v1h-1zM350 774h1v1h-1zM364 774h1v1h-1zM371 774h1v1h-1zM519 774h1v1h-1zM528 774h4v1h-4zM545 774h1v1h-1zM551 774h1v1h-1zM560 774h1v1h-1zM563 774h2v1h-2zM568 774h1v1h-1zM350 775h1v1h-1zM363 775h1v1h-1zM371 775h1v1h-1zM519 775h1v1h-1zM531 775h1v1h-1zM544 775h1v1h-1zM550 775h1v1h-1zM552 775h1v1h-1zM560 775h1v1h-1zM562 775h1v1h-1zM350 776h1v1h-1zM363 776h1v1h-1zM371 776h1v1h-1zM520 776h1v1h-1zM531 776h1v1h-1zM544 776h1v1h-1zM550 776h1v1h-1zM552 776h1v1h-1zM560 776h2v1h-2zM350 777h1v1h-1zM362 777h1v1h-1zM371 777h1v1h-1zM521 777h1v1h-1zM532 777h1v1h-1zM544 777h1v1h-1zM550 777h1v1h-1zM552 777h1v1h-1zM560 777h1v1h-1zM350 778h1v1h-1zM363 778h1v1h-1zM370 778h1v1h-1zM522 778h1v1h-1zM532 778h1v1h-1zM544 778h1v1h-1zM549 778h1v1h-1zM552 778h1v1h-1zM559 778h1v1h-1zM350 779h1v1h-1zM364 779h1v1h-1zM370 779h1v1h-1zM523 779h1v1h-1zM533 779h6v1h-6zM542 779h2v1h-2zM549 779h1v1h-1zM553 779h1v1h-1zM558 779h1v1h-1zM350 780h1v1h-1zM364 780h1v1h-1zM370 780h1v1h-1zM524 780h1v1h-1zM539 780h3v1h-3zM548 780h1v1h-1zM553 780h1v1h-1zM557 780h1v1h-1zM351 781h1v1h-1zM364 781h1v1h-1zM370 781h1v1h-1zM524 781h2v1h-2zM548 781h1v1h-1zM553 781h1v1h-1zM556 781h1v1h-1zM352 782h1v1h-1zM364 782h1v1h-1zM370 782h1v1h-1zM522 782h2v1h-2zM547 782h1v1h-1zM553 782h3v1h-3zM353 783h3v1h-3zM363 783h2v1h-2zM370 783h1v1h-1zM521 783h1v1h-1zM546 783h1v1h-1zM555 783h1v1h-1zM354 784h1v1h-1zM361 784h2v1h-2zM371 784h2v1h-2zM521 784h1v1h-1zM546 784h1v1h-1zM555 784h1v1h-1zM354 785h1v1h-1zM358 785h3v1h-3zM373 785h2v1h-2zM521 785h1v1h-1zM545 785h1v1h-1zM555 785h1v1h-1zM353 786h1v1h-1zM356 786h2v1h-2zM375 786h1v1h-1zM514 786h5v1h-5zM521 786h1v1h-1zM544 786h1v1h-1zM555 786h1v1h-1zM354 787h2v1h-2zM375 787h1v1h-1zM512 787h2v1h-2zM519 787h2v1h-2zM543 787h1v1h-1zM555 787h1v1h-1zM374 788h1v1h-1zM512 788h1v1h-1zM519 788h2v1h-2zM542 788h1v1h-1zM555 788h1v1h-1zM373 789h1v1h-1zM512 789h1v1h-1zM519 789h1v1h-1zM542 789h1v1h-1zM555 789h1v1h-1zM372 790h1v1h-1zM512 790h1v1h-1zM542 790h1v1h-1zM555 790h1v1h-1zM372 791h1v1h-1zM512 791h2v1h-2zM542 791h1v1h-1zM555 791h1v1h-1zM372 792h1v1h-1zM514 792h4v1h-4zM542 792h1v1h-1zM555 792h1v1h-1zM371 793h1v1h-1zM518 793h1v1h-1zM542 793h1v1h-1zM555 793h1v1h-1zM368 794h1v1h-1zM371 794h1v1h-1zM518 794h1v1h-1zM542 794h1v1h-1zM556 794h1v1h-1zM367 795h1v1h-1zM369 795h3v1h-3zM518 795h1v1h-1zM537 795h1v1h-1zM541 795h1v1h-1zM556 795h1v1h-1zM562 795h1v1h-1zM366 796h1v1h-1zM371 796h1v1h-1zM518 796h1v1h-1zM536 796h1v1h-1zM538 796h1v1h-1zM541 796h1v1h-1zM556 796h6v1h-6zM563 796h1v1h-1zM366 797h1v1h-1zM518 797h1v1h-1zM536 797h1v1h-1zM538 797h1v1h-1zM541 797h1v1h-1zM563 797h1v1h-1zM365 798h1v1h-1zM368 798h2v1h-2zM517 798h1v1h-1zM536 798h1v1h-1zM538 798h4v1h-4zM563 798h1v1h-1zM365 799h3v1h-3zM370 799h2v1h-2zM516 799h1v1h-1zM535 799h1v1h-1zM562 799h1v1h-1zM365 800h1v1h-1zM371 800h1v1h-1zM515 800h1v1h-1zM535 800h1v1h-1zM562 800h1v1h-1zM371 801h1v1h-1zM515 801h1v1h-1zM535 801h1v1h-1zM561 801h1v1h-1zM371 802h1v1h-1zM515 802h1v1h-1zM535 802h1v1h-1zM560 802h1v1h-1zM371 803h5v1h-5zM515 803h1v1h-1zM534 803h2v1h-2zM559 803h1v1h-1zM375 804h1v1h-1zM514 804h1v1h-1zM525 804h1v1h-1zM534 804h1v1h-1zM558 804h1v1h-1zM375 805h1v1h-1zM513 805h1v1h-1zM524 805h1v1h-1zM526 805h2v1h-2zM534 805h1v1h-1zM540 805h2v1h-2zM558 805h1v1h-1zM376 806h1v1h-1zM512 806h1v1h-1zM524 806h1v1h-1zM528 806h1v1h-1zM534 806h1v1h-1zM538 806h2v1h-2zM542 806h3v1h-3zM557 806h1v1h-1zM376 807h1v1h-1zM512 807h1v1h-1zM524 807h1v1h-1zM529 807h1v1h-1zM535 807h4v1h-4zM543 807h1v1h-1zM557 807h1v1h-1zM376 808h1v1h-1zM512 808h1v1h-1zM524 808h1v1h-1zM530 808h1v1h-1zM536 808h1v1h-1zM538 808h2v1h-2zM542 808h1v1h-1zM556 808h1v1h-1zM376 809h1v1h-1zM506 809h1v1h-1zM512 809h1v1h-1zM525 809h3v1h-3zM531 809h1v1h-1zM536 809h2v1h-2zM540 809h3v1h-3zM556 809h1v1h-1zM376 810h1v1h-1zM507 810h5v1h-5zM527 810h1v1h-1zM531 810h1v1h-1zM535 810h1v1h-1zM537 810h1v1h-1zM543 810h2v1h-2zM556 810h1v1h-1zM377 811h1v1h-1zM507 811h1v1h-1zM527 811h1v1h-1zM532 811h1v1h-1zM534 811h1v1h-1zM537 811h1v1h-1zM545 811h1v1h-1zM555 811h2v1h-2zM377 812h1v1h-1zM507 812h1v1h-1zM528 812h1v1h-1zM533 812h2v1h-2zM537 812h1v1h-1zM545 812h1v1h-1zM555 812h1v1h-1zM377 813h1v1h-1zM508 813h3v1h-3zM529 813h1v1h-1zM534 813h1v1h-1zM537 813h1v1h-1zM545 813h1v1h-1zM555 813h1v1h-1zM377 814h1v1h-1zM510 814h1v1h-1zM529 814h1v1h-1zM534 814h1v1h-1zM536 814h1v1h-1zM545 814h1v1h-1zM555 814h1v1h-1zM378 815h2v1h-2zM510 815h1v1h-1zM529 815h1v1h-1zM536 815h1v1h-1zM545 815h1v1h-1zM555 815h1v1h-1zM379 816h1v1h-1zM510 816h1v1h-1zM530 816h1v1h-1zM535 816h1v1h-1zM544 816h1v1h-1zM555 816h1v1h-1zM379 817h1v1h-1zM510 817h1v1h-1zM530 817h1v1h-1zM535 817h1v1h-1zM544 817h1v1h-1zM555 817h1v1h-1zM380 818h1v1h-1zM509 818h1v1h-1zM530 818h1v1h-1zM533 818h1v1h-1zM535 818h1v1h-1zM544 818h1v1h-1zM555 818h1v1h-1zM380 819h1v1h-1zM407 819h4v1h-4zM508 819h1v1h-1zM530 819h3v1h-3zM534 819h2v1h-2zM544 819h4v1h-4zM554 819h1v1h-1zM380 820h1v1h-1zM405 820h2v1h-2zM411 820h2v1h-2zM507 820h1v1h-1zM535 820h1v1h-1zM547 820h1v1h-1zM554 820h1v1h-1zM380 821h1v1h-1zM395 821h1v1h-1zM404 821h1v1h-1zM412 821h1v1h-1zM506 821h1v1h-1zM548 821h1v1h-1zM554 821h1v1h-1zM380 822h1v1h-1zM395 822h2v1h-2zM403 822h1v1h-1zM412 822h1v1h-1zM505 822h1v1h-1zM549 822h1v1h-1zM554 822h1v1h-1zM380 823h1v1h-1zM394 823h1v1h-1zM397 823h1v1h-1zM403 823h1v1h-1zM413 823h1v1h-1zM505 823h1v1h-1zM550 823h1v1h-1zM553 823h1v1h-1zM380 824h1v1h-1zM394 824h1v1h-1zM398 824h2v1h-2zM403 824h1v1h-1zM413 824h1v1h-1zM422 824h2v1h-2zM505 824h1v1h-1zM551 824h2v1h-2zM380 825h1v1h-1zM393 825h1v1h-1zM400 825h2v1h-2zM403 825h1v1h-1zM413 825h1v1h-1zM420 825h2v1h-2zM424 825h1v1h-1zM444 825h8v1h-8zM505 825h1v1h-1zM380 826h1v1h-1zM392 826h1v1h-1zM401 826h1v1h-1zM403 826h1v1h-1zM413 826h1v1h-1zM419 826h1v1h-1zM425 826h1v1h-1zM443 826h1v1h-1zM452 826h3v1h-3zM497 826h1v1h-1zM505 826h1v1h-1zM380 827h1v1h-1zM391 827h1v1h-1zM401 827h1v1h-1zM403 827h1v1h-1zM414 827h1v1h-1zM417 827h2v1h-2zM426 827h2v1h-2zM443 827h1v1h-1zM455 827h1v1h-1zM496 827h1v1h-1zM498 827h1v1h-1zM501 827h5v1h-5zM380 828h1v1h-1zM390 828h1v1h-1zM401 828h3v1h-3zM414 828h1v1h-1zM416 828h1v1h-1zM428 828h15v1h-15zM456 828h1v1h-1zM496 828h1v1h-1zM499 828h2v1h-2zM380 829h1v1h-1zM384 829h1v1h-1zM387 829h1v1h-1zM389 829h1v1h-1zM415 829h1v1h-1zM457 829h1v1h-1zM496 829h1v1h-1zM499 829h1v1h-1zM380 830h1v1h-1zM383 830h1v1h-1zM385 830h2v1h-2zM388 830h1v1h-1zM458 830h1v1h-1zM495 830h1v1h-1zM380 831h1v1h-1zM382 831h1v1h-1zM385 831h1v1h-1zM459 831h1v1h-1zM495 831h1v1h-1zM380 832h2v1h-2zM459 832h1v1h-1zM495 832h1v1h-1zM380 833h1v1h-1zM460 833h1v1h-1zM495 833h1v1h-1zM460 834h1v1h-1zM496 834h2v1h-2zM461 835h1v1h-1zM498 835h2v1h-2zM462 836h2v1h-2zM500 836h1v1h-1zM464 837h1v1h-1zM500 837h1v1h-1zM464 838h3v1h-3zM500 838h1v1h-1zM464 839h1v1h-1zM467 839h2v1h-2zM499 839h2v1h-2zM469 840h1v1h-1zM484 840h1v1h-1zM497 840h2v1h-2zM470 841h1v1h-1zM477 841h7v1h-7zM485 841h4v1h-4zM496 841h1v1h-1zM470 842h1v1h-1zM475 842h2v1h-2zM488 842h1v1h-1zM496 842h1v1h-1zM470 843h1v1h-1zM474 843h1v1h-1zM488 843h1v1h-1zM495 843h1v1h-1zM470 844h1v1h-1zM474 844h1v1h-1zM488 844h1v1h-1zM493 844h2v1h-2zM471 845h4v1h-4zM487 845h1v1h-1zM492 845h1v1h-1zM487 846h1v1h-1zM490 846h2v1h-2zM487 847h3v1h-3z"/>
</g>
<g class="leg">
<rect x="922.5" y="271.5" width="44.0" height="38.0" fill="#996619"/>
<rect x="922.5" y="309.5" width="44.0" height="39.0" fill="#ff0000"/>
<rect x="922.5" y="348.5" width="44.0" height="39.0" fill="#ff6633"/>
<rect x="922.5" y="387.5" width="44.0" height="39.0" fill="#ff9933"/>
<rect x="922.5" y="426.5" width="44.0" height="38.0" fill="#ffff33"/>
<rect x="922.5" y="464.5" width="44.0" height="39.0" fill="#f2f2f2"/>
<rect x="922.5" y="503.5" width="44.0" height="39.0" fill="#ffffff"/>
<rect x="922.5" y="542.5" width="44.0" height="39.0" fill="#ffffff"/>
<rect x="922.5" y="581.5" width="44.0" height="38.0" fill="#d4d4d4"/>
<rect x="922.5" y="619.5" width="44.0" height="39.0" fill="#ccffcc"/>
<rect x="922.5" y="658.5" width="44.0" height="39.0" fill="#66cc66"/>
<rect x="922.5" y="697.5" width="44.0" height="39.0" fill="#6699ff"/>
<rect x="922.5" y="736.5" width="44.0" height="38.0" fill="#0066ff"/>
<rect x="922.5" y="774.5" width="44.0" height="39.0" fill="#660099"/>
</g>
</svg>
<svg width="1099" height="896" viewBox="0 0 1099 896">
<defs><filter id="th" x="0" y="0" width="1099" height="896" filterUnits="userSpaceOnUse" color-interpolation-filters="sRGB"><feComponentTransfer><feFuncA type="discrete" tableValues="0 1"/></feComponentTransfer></filter></defs>
<g filter="url(#th)">
<g transform="translate(0,16) scale(1,1.08)" style="stroke-width:0.5px"><text y="0" font-size="21.3"><tspan x="182.1">Chance</tspan> <tspan x="261.9">of</tspan> <tspan x="283.8">exceeding</tspan> <tspan x="387.2">the</tspan> <tspan x="422.6">median</tspan> <tspan x="497.9">Min</tspan> <tspan x="537.1">Temp.December</tspan> <tspan x="700.7">2006</tspan> <tspan x="754.4">to</tspan> <tspan x="776.6">February</tspan> <tspan x="866.1">2007</tspan></text></g>
<text y="42" font-size="17.2"><tspan x="397.9">Product</tspan> <tspan x="462.9">of</tspan> <tspan x="483.4">the</tspan> <tspan x="512.9">National</tspan> <tspan x="581.1">Climate</tspan> <tspan x="646.5">Centre</tspan></text>
<g class="small">
<text y="893" font-size="12.0"><tspan x="1.0">©</tspan> <tspan x="14.5">Commonwealth</tspan> <tspan x="103.7">of</tspan> <tspan x="116.7">Australia</tspan> <tspan x="168.9">2006,</tspan> <tspan x="202.1">Australian</tspan> <tspan x="261.0">Bureau</tspan> <tspan x="305.1">of</tspan> <tspan x="318.2">Meteorology</tspan></text>
<text y="893" font-size="12.5"><tspan x="993.6">Issued:</tspan> <tspan x="1036.4">06/11/2006</tspan></text>
<text y="871" font-size="12.5"><tspan x="6.2">http://www.bom.gov.au</tspan></text>
</g>
<g class="legt">
<text x="976.8" y="317.0">80%</text>
<text x="976.8" y="356.0">75%</text>
<text x="976.8" y="395.0">70%</text>
<text x="976.8" y="434.0">65%</text>
<text x="976.8" y="472.0">60%</text>
<text x="976.8" y="511.0">55%</text>
<text x="976.8" y="550.0">50%</text>
<text x="976.8" y="589.0">45%</text>
<text x="976.8" y="627.0">40%</text>
<text x="976.8" y="666.0">35%</text>
<text x="976.8" y="705.0">30%</text>
<text x="976.8" y="744.0">25%</text>
<text x="976.8" y="782.0">20%</text>
</g>
</g>
</svg>
</body></html>
